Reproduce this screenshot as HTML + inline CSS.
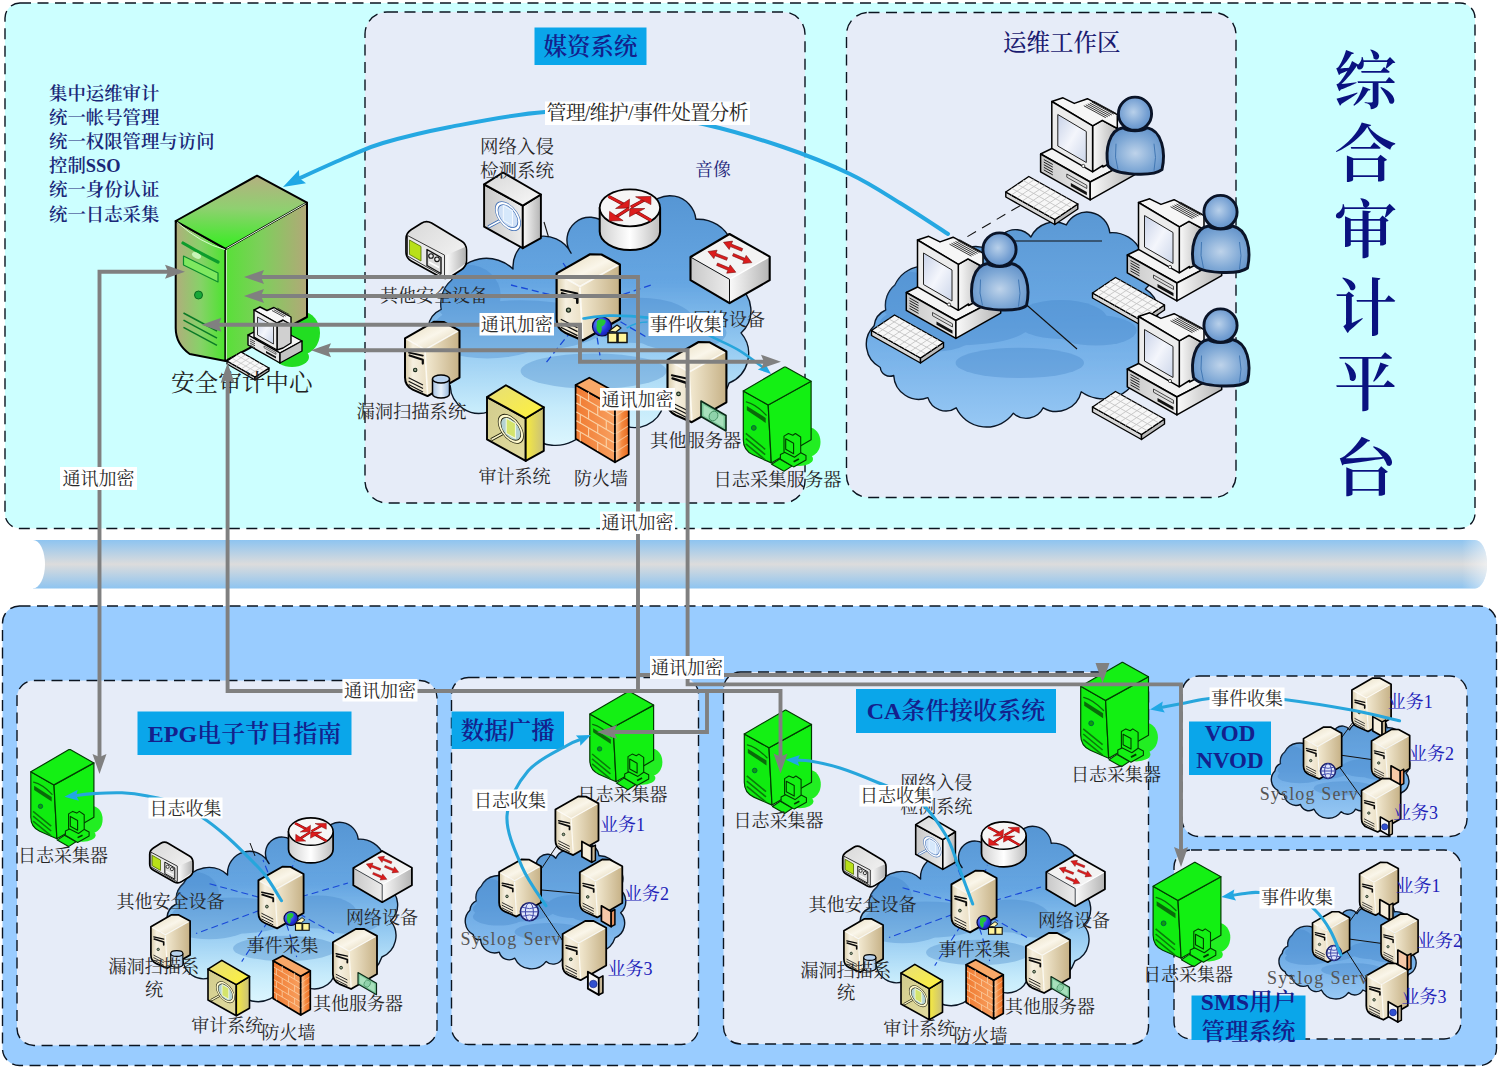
<!DOCTYPE html>
<html lang="zh"><head><meta charset="utf-8"><title>综合审计平台</title>
<style>
html,body{margin:0;padding:0;background:#fff;}
body{width:1499px;height:1068px;overflow:hidden;}
svg{display:block;font-family:'Liberation Serif','Noto Serif CJK SC',serif;}
</style></head><body>
<svg width="1499" height="1068" viewBox="0 0 1499 1068">
<defs>

<linearGradient id="gCloud" x1="0" y1="0" x2="0" y2="1"><stop offset="0" stop-color="#5696d4"/><stop offset="0.35" stop-color="#66a6e2"/><stop offset="0.62" stop-color="#98ccf2"/><stop offset="0.85" stop-color="#c6ebfb"/><stop offset="1" stop-color="#dcf6fe"/></linearGradient>
<linearGradient id="gCloud2" x1="0" y1="0" x2="0" y2="1"><stop offset="0" stop-color="#5a98d4"/><stop offset="0.5" stop-color="#6ba9e4"/><stop offset="1" stop-color="#97c8f4"/></linearGradient>
<linearGradient id="gSrvTop" x1="0" y1="0" x2="1" y2="1"><stop offset="0" stop-color="#e4d8b8"/><stop offset="0.5" stop-color="#faf6ea"/><stop offset="1" stop-color="#d9c9a3"/></linearGradient>
<linearGradient id="gSrvL" x1="0" y1="0" x2="1" y2="0"><stop offset="0" stop-color="#d8cba8"/><stop offset="0.35" stop-color="#f6f0e0"/><stop offset="1" stop-color="#eadfc4"/></linearGradient>
<linearGradient id="gSrvR" x1="0" y1="0" x2="1" y2="0"><stop offset="0" stop-color="#f3ead2"/><stop offset="1" stop-color="#c6b186"/></linearGradient>
<linearGradient id="gBigTop" x1="0.5" y1="0" x2="0.45" y2="1"><stop offset="0" stop-color="#b4b080"/><stop offset="0.45" stop-color="#8fd070"/><stop offset="1" stop-color="#35ee20"/></linearGradient>
<linearGradient id="gBigL" x1="0" y1="0" x2="1" y2="0"><stop offset="0" stop-color="#b0ae7c"/><stop offset="0.5" stop-color="#86d268"/><stop offset="1" stop-color="#4be42e"/></linearGradient>
<linearGradient id="gBigR" x1="0" y1="0" x2="1" y2="0"><stop offset="0" stop-color="#58e038"/><stop offset="0.45" stop-color="#7fce5c"/><stop offset="1" stop-color="#b2a878"/></linearGradient>
<linearGradient id="gGrayTop" x1="0" y1="0" x2="1" y2="1"><stop offset="0" stop-color="#d8d8d8"/><stop offset="1" stop-color="#f8f8f8"/></linearGradient>
<linearGradient id="gGrayL" x1="0" y1="0" x2="1" y2="0"><stop offset="0" stop-color="#c8c8c8"/><stop offset="1" stop-color="#ececec"/></linearGradient>
<linearGradient id="gGrayR" x1="0" y1="0" x2="1" y2="0"><stop offset="0" stop-color="#fafafa"/><stop offset="1" stop-color="#b4b4b4"/></linearGradient>
<linearGradient id="gCyl" x1="0" y1="0" x2="1" y2="0"><stop offset="0" stop-color="#cfcfcf"/><stop offset="0.5" stop-color="#ffffff"/><stop offset="1" stop-color="#bdbdbd"/></linearGradient>
<linearGradient id="gYelTop" x1="0" y1="0" x2="1" y2="1"><stop offset="0" stop-color="#e6de7a"/><stop offset="1" stop-color="#fff23a"/></linearGradient>
<linearGradient id="gYelL" x1="0" y1="0" x2="1" y2="1"><stop offset="0" stop-color="#d2cc8c"/><stop offset="1" stop-color="#e2dca0"/></linearGradient>
<linearGradient id="gYelR" x1="0" y1="0" x2="1" y2="0"><stop offset="0" stop-color="#f6ea40"/><stop offset="1" stop-color="#c9c07a"/></linearGradient>
<linearGradient id="gFwL" x1="0" y1="0" x2="1" y2="0"><stop offset="0" stop-color="#f07a30"/><stop offset="1" stop-color="#f8a060"/></linearGradient>
<linearGradient id="gFwR" x1="0" y1="0" x2="1" y2="0"><stop offset="0" stop-color="#fbd0a8"/><stop offset="0.5" stop-color="#f58a40"/><stop offset="1" stop-color="#e86a20"/></linearGradient>
<radialGradient id="gUser" cx="0.5" cy="0.55" r="0.6"><stop offset="0" stop-color="#bed3ea"/><stop offset="0.6" stop-color="#80a9d6"/><stop offset="1" stop-color="#5f90c8"/></radialGradient>
<radialGradient id="gHead" cx="0.45" cy="0.45" r="0.6"><stop offset="0" stop-color="#b8d0ea"/><stop offset="0.7" stop-color="#749fd2"/><stop offset="1" stop-color="#5f90c8"/></radialGradient>
<linearGradient id="gScreen" x1="0" y1="0" x2="1" y2="1"><stop offset="0" stop-color="#c8d2e8"/><stop offset="0.5" stop-color="#f4f6fc"/><stop offset="1" stop-color="#ccd6ea"/></linearGradient>
<radialGradient id="gGlobe" cx="0.35" cy="0.35" r="0.8"><stop offset="0" stop-color="#6a8cff"/><stop offset="0.6" stop-color="#2030d8"/><stop offset="1" stop-color="#101890"/></radialGradient>
<linearGradient id="gDb" x1="0" y1="0" x2="1" y2="0"><stop offset="0" stop-color="#a8c4e4"/><stop offset="0.5" stop-color="#e8f2fc"/><stop offset="1" stop-color="#98b8dc"/></linearGradient>

<linearGradient id="pipe" x1="0" y1="0" x2="0" y2="1"><stop offset="0" stop-color="#8ec4f0"/><stop offset="0.5" stop-color="#dcdcdc"/><stop offset="1" stop-color="#8ec4f0"/></linearGradient>
<linearGradient id="pipeEnd" x1="0" y1="0" x2="1" y2="0"><stop offset="0" stop-color="#fff" stop-opacity="0"/><stop offset="1" stop-color="#fff" stop-opacity="0.55"/></linearGradient>
<clipPath id="cl1"><path d="M434.9,376.4 A30.4,30.4 0 0 1 428.0,327.8 A22.7,22.7 0 0 1 441.3,309.4 A30.9,30.9 0 0 1 451.5,280.3 A38.7,38.7 0 0 1 513.0,268.9 A30.7,30.7 0 0 1 571.1,253.2 A22.8,22.8 0 0 1 606.3,224.4 A29.8,29.8 0 0 1 646.4,210.2 A26.2,26.2 0 0 1 695.9,219.3 A35.6,35.6 0 0 1 731.4,241.6 A27.2,27.2 0 0 1 736.4,285.1 A29.8,29.8 0 0 1 741.0,332.9 A31.9,31.9 0 0 1 729.1,383.0 A42.9,42.9 0 0 1 663.4,404.7 A29.2,29.2 0 0 1 620.2,423.5 A21.4,21.4 0 0 1 586.3,429.8 A37.9,37.9 0 0 1 521.3,423.5 A21.3,21.3 0 0 1 489.1,411.6 A28.9,28.9 0 0 1 450.2,385.8 A11.1,11.1 0 0 1 434.9,376.4Z"/></clipPath>
<clipPath id="cl2"><path d="M880.3,367.5 A26.1,26.1 0 0 1 874.1,325.8 A19.7,19.7 0 0 1 885.8,310.0 A26.5,26.5 0 0 1 894.9,285.0 A34.0,34.0 0 0 1 948.9,275.2 A26.9,26.9 0 0 1 1000.0,261.8 A19.8,19.8 0 0 1 1030.9,237.0 A26.2,26.2 0 0 1 1066.3,224.9 A23.0,23.0 0 0 1 1109.8,232.7 A31.1,31.1 0 0 1 1141.0,251.8 A23.3,23.3 0 0 1 1145.4,289.1 A25.6,25.6 0 0 1 1149.5,330.1 A27.4,27.4 0 0 1 1139.0,373.1 A37.7,37.7 0 0 1 1081.2,391.8 A25.6,25.6 0 0 1 1043.2,407.8 A18.8,18.8 0 0 1 1013.4,413.2 A33.3,33.3 0 0 1 956.2,407.8 A18.7,18.7 0 0 1 927.9,397.6 A25.2,25.2 0 0 1 893.7,375.5 A9.7,9.7 0 0 1 880.3,367.5Z"/></clipPath>
<clipPath id="cl3"><path d="M172.0,952.2 A21.9,21.9 0 0 1 167.0,917.3 A16.3,16.3 0 0 1 176.5,904.0 A22.2,22.2 0 0 1 183.8,883.1 A27.7,27.7 0 0 1 227.6,874.9 A21.9,21.9 0 0 1 269.1,863.6 A16.3,16.3 0 0 1 294.2,842.8 A21.3,21.3 0 0 1 322.9,832.6 A18.7,18.7 0 0 1 358.2,839.2 A25.5,25.5 0 0 1 383.6,855.2 A19.5,19.5 0 0 1 387.1,886.5 A21.4,21.4 0 0 1 390.5,920.9 A23.0,23.0 0 0 1 381.9,957.0 A30.7,30.7 0 0 1 335.0,972.6 A20.8,20.8 0 0 1 304.2,986.1 A15.3,15.3 0 0 1 280.0,990.6 A27.1,27.1 0 0 1 233.6,986.1 A15.2,15.2 0 0 1 210.6,977.5 A20.7,20.7 0 0 1 182.9,959.0 A7.9,7.9 0 0 1 172.0,952.2Z"/></clipPath>
<clipPath id="cl4"><path d="M865.0,956.2 A21.9,21.9 0 0 1 860.0,921.3 A16.3,16.3 0 0 1 869.5,908.0 A22.2,22.2 0 0 1 876.8,887.1 A27.7,27.7 0 0 1 920.6,878.9 A21.9,21.9 0 0 1 962.1,867.6 A16.3,16.3 0 0 1 987.2,846.8 A21.3,21.3 0 0 1 1015.9,836.6 A18.7,18.7 0 0 1 1051.2,843.2 A25.5,25.5 0 0 1 1076.6,859.2 A19.5,19.5 0 0 1 1080.2,890.5 A21.4,21.4 0 0 1 1083.5,924.9 A23.0,23.0 0 0 1 1074.9,961.0 A30.7,30.7 0 0 1 1028.0,976.6 A20.8,20.8 0 0 1 997.2,990.1 A15.3,15.3 0 0 1 973.0,994.6 A27.1,27.1 0 0 1 926.6,990.1 A15.2,15.2 0 0 1 903.6,981.5 A20.7,20.7 0 0 1 875.9,963.0 A7.9,7.9 0 0 1 865.0,956.2Z"/></clipPath>
<clipPath id="cl5"><path d="M473.2,934.6 A15.3,15.3 0 0 1 469.9,910.2 A11.3,11.3 0 0 1 476.3,900.9 A15.4,15.4 0 0 1 481.2,886.3 A18.7,18.7 0 0 1 510.8,880.6 A14.8,14.8 0 0 1 538.8,872.7 A11.1,11.1 0 0 1 555.8,858.2 A14.4,14.4 0 0 1 575.1,851.1 A12.6,12.6 0 0 1 599.0,855.7 A17.4,17.4 0 0 1 616.1,866.9 A13.6,13.6 0 0 1 618.5,888.7 A14.9,14.9 0 0 1 620.7,912.7 A16.0,16.0 0 0 1 615.0,937.9 A20.8,20.8 0 0 1 583.3,948.8 A14.2,14.2 0 0 1 562.5,958.2 A10.3,10.3 0 0 1 546.2,961.4 A18.3,18.3 0 0 1 514.8,958.2 A10.3,10.3 0 0 1 499.3,952.2 A14.1,14.1 0 0 1 480.6,939.3 A5.4,5.4 0 0 1 473.2,934.6Z"/></clipPath>
<clipPath id="cl6"><path d="M1277.8,790.4 A12.2,12.2 0 0 1 1274.9,771.0 A9.2,9.2 0 0 1 1280.5,763.7 A12.4,12.4 0 0 1 1284.8,752.0 A16.2,16.2 0 0 1 1310.5,747.5 A12.8,12.8 0 0 1 1334.8,741.2 A9.3,9.3 0 0 1 1349.6,729.7 A12.4,12.4 0 0 1 1366.4,724.1 A10.9,10.9 0 0 1 1387.1,727.7 A14.7,14.7 0 0 1 1402.0,736.6 A10.8,10.8 0 0 1 1404.0,754.0 A11.9,11.9 0 0 1 1406.0,773.0 A12.8,12.8 0 0 1 1401.0,793.0 A17.9,17.9 0 0 1 1373.5,801.7 A12.1,12.1 0 0 1 1355.4,809.2 A8.9,8.9 0 0 1 1341.2,811.7 A15.9,15.9 0 0 1 1314.0,809.2 A8.9,8.9 0 0 1 1300.5,804.5 A11.9,11.9 0 0 1 1284.2,794.2 A4.6,4.6 0 0 1 1277.8,790.4Z"/></clipPath>
<clipPath id="cl7"><path d="M1285.2,971.9 A11.7,11.7 0 0 1 1282.3,953.3 A9.0,9.0 0 0 1 1287.9,946.2 A12.0,12.0 0 0 1 1292.2,935.1 A16.2,16.2 0 0 1 1317.9,930.7 A12.8,12.8 0 0 1 1342.2,924.7 A9.2,9.2 0 0 1 1357.0,913.6 A12.4,12.4 0 0 1 1373.8,908.2 A10.9,10.9 0 0 1 1394.5,911.7 A14.6,14.6 0 0 1 1409.4,920.2 A10.4,10.4 0 0 1 1411.5,936.9 A11.4,11.4 0 0 1 1413.4,955.3 A12.3,12.3 0 0 1 1408.4,974.5 A17.8,17.8 0 0 1 1380.9,982.8 A12.1,12.1 0 0 1 1362.8,990.0 A8.9,8.9 0 0 1 1348.6,992.4 A15.9,15.9 0 0 1 1321.4,990.0 A8.8,8.8 0 0 1 1307.9,985.4 A11.8,11.8 0 0 1 1291.6,975.5 A4.5,4.5 0 0 1 1285.2,971.9Z"/></clipPath>
</defs>
<rect x="0" y="0" width="1499" height="1068" fill="#fff"/>
<rect x="5" y="3" width="1470" height="525.5" rx="15" fill="#ccffff" stroke="#0b1420" stroke-width="1.4" stroke-dasharray="11 6.5"/>
<rect x="365" y="12" width="440" height="491" rx="22" fill="#e6ecf8" stroke="#0b1420" stroke-width="1.4" stroke-dasharray="11 6.5"/>
<rect x="846.5" y="12.5" width="389.5" height="485" rx="22" fill="#e6ecf8" stroke="#0b1420" stroke-width="1.4" stroke-dasharray="11 6.5"/>
<path d="M33,540 H1475 A12,24.2 0 0 1 1475,588.4 H33 Z" fill="url(#pipe)"/>
<path d="M1462,540 H1475 A12,24.2 0 0 1 1475,588.4 H1462 Z" fill="url(#pipeEnd)"/>
<ellipse cx="33" cy="564.2" rx="12" ry="24.2" fill="#fff"/>
<rect x="2.5" y="606" width="1494" height="459.5" rx="17" fill="#99ccff" stroke="#0b1420" stroke-width="1.4" stroke-dasharray="11 6.5"/>
<rect x="17" y="680.5" width="420" height="365" rx="17" fill="#e6ecf8" stroke="#0b1420" stroke-width="1.4" stroke-dasharray="11 6.5"/>
<rect x="451.5" y="677.5" width="247" height="367" rx="17" fill="#e6ecf8" stroke="#0b1420" stroke-width="1.4" stroke-dasharray="11 6.5"/>
<rect x="723.5" y="672" width="425" height="372" rx="17" fill="#e6ecf8" stroke="#0b1420" stroke-width="1.4" stroke-dasharray="11 6.5"/>
<rect x="1182" y="676" width="285" height="160.5" rx="17" fill="#e6ecf8" stroke="#0b1420" stroke-width="1.4" stroke-dasharray="11 6.5"/>
<rect x="1174" y="850" width="287" height="189" rx="17" fill="#e6ecf8" stroke="#0b1420" stroke-width="1.4" stroke-dasharray="11 6.5"/>
<rect x="534.5" y="27.5" width="112.0" height="37.5" fill="#0aa6ea"/>
<text x="590.5" y="54.5" font-size="23.5" fill="#14208c" font-weight="600" text-anchor="middle" >媒资系统</text>
<rect x="137.5" y="711.5" width="214.0" height="43.5" fill="#0aa6ea"/>
<text x="244.5" y="741.6" font-size="24.0" fill="#14208c" font-weight="600" text-anchor="middle" >EPG电子节目指南</text>
<rect x="451.5" y="711.5" width="112.5" height="37.5" fill="#0aa6ea"/>
<text x="507.8" y="738.5" font-size="23.5" fill="#14208c" font-weight="600" text-anchor="middle" >数据广播</text>
<rect x="856.0" y="689.0" width="200.0" height="44.0" fill="#0aa6ea"/>
<text x="956.0" y="719.4" font-size="24.0" fill="#14208c" font-weight="600" text-anchor="middle" >CA条件接收系统</text>
<rect x="1189.0" y="721.5" width="82.0" height="53.5" fill="#0aa6ea"/>
<text x="1230.0" y="740.5" font-size="23.0" fill="#14208c" font-weight="600" text-anchor="middle" >VOD</text>
<text x="1230.0" y="768.0" font-size="23.0" fill="#14208c" font-weight="600" text-anchor="middle" >NVOD</text>
<rect x="1191.5" y="995.5" width="114.0" height="44.5" fill="#0aa6ea"/>
<text x="1248.5" y="1009.5" font-size="23.5" fill="#14208c" font-weight="600" text-anchor="middle" >SMS用户</text>
<text x="1248.5" y="1039.5" font-size="23.5" fill="#14208c" font-weight="600" text-anchor="middle" >管理系统</text>
<text x="1003.0" y="51.0" font-size="23.5" fill="#1a1a70" font-weight="500" text-anchor="start" >运维工作区</text>
<text x="1365.5 1365.5 1365.5 1365.5 1365.5 1365.5" y="103.0 176.0 252.0 329.5 404.5 489.5" font-size="63" fill="#0a1280" font-weight="600" text-anchor="middle">综合审计平台</text>
<text x="49.0" y="100.0" font-size="18.4" fill="#1a2878" font-weight="600" text-anchor="start" >集中运维审计</text>
<text x="49.0" y="124.1" font-size="18.4" fill="#1a2878" font-weight="600" text-anchor="start" >统一帐号管理</text>
<text x="49.0" y="148.2" font-size="18.4" fill="#1a2878" font-weight="600" text-anchor="start" >统一权限管理与访问</text>
<text x="49.0" y="172.3" font-size="18.4" fill="#1a2878" font-weight="600" text-anchor="start" >控制SSO</text>
<text x="49.0" y="196.4" font-size="18.4" fill="#1a2878" font-weight="600" text-anchor="start" >统一身份认证</text>
<text x="49.0" y="220.5" font-size="18.4" fill="#1a2878" font-weight="600" text-anchor="start" >统一日志采集</text>
<path d="M434.9,376.4 A30.4,30.4 0 0 1 428.0,327.8 A22.7,22.7 0 0 1 441.3,309.4 A30.9,30.9 0 0 1 451.5,280.3 A38.7,38.7 0 0 1 513.0,268.9 A30.7,30.7 0 0 1 571.1,253.2 A22.8,22.8 0 0 1 606.3,224.4 A29.8,29.8 0 0 1 646.4,210.2 A26.2,26.2 0 0 1 695.9,219.3 A35.6,35.6 0 0 1 731.4,241.6 A27.2,27.2 0 0 1 736.4,285.1 A29.8,29.8 0 0 1 741.0,332.9 A31.9,31.9 0 0 1 729.1,383.0 A42.9,42.9 0 0 1 663.4,404.7 A29.2,29.2 0 0 1 620.2,423.5 A21.4,21.4 0 0 1 586.3,429.8 A37.9,37.9 0 0 1 521.3,423.5 A21.3,21.3 0 0 1 489.1,411.6 A28.9,28.9 0 0 1 450.2,385.8 A11.1,11.1 0 0 1 434.9,376.4Z" fill="url(#gCloud)" stroke="#0a1626" stroke-width="1.40" stroke-linejoin="round" />
<g clip-path="url(#cl1)" fill="#3f7fc4" opacity="0.33">
<ellipse cx="520.6" cy="325.6" rx="86.3" ry="25.3"/>
<ellipse cx="487.4" cy="340.7" rx="53.1" ry="17.7"/>
<ellipse cx="640.1" cy="320.5" rx="53.1" ry="22.8"/>
<ellipse cx="680.0" cy="333.1" rx="46.5" ry="17.7"/>
<ellipse cx="593.6" cy="371.1" rx="73.0" ry="17.7"/>
<ellipse cx="467.5" cy="295.2" rx="33.2" ry="30.4"/>
</g>
<line x1="544.0" y1="222.0" x2="548.5" y2="237.0" stroke="#111" stroke-width="1.10" />
<g stroke="#1848d8" stroke-width="1.3" stroke-dasharray="7 4">
<line x1="592.0" y1="305.0" x2="511.0" y2="285.0"/>
<line x1="592.0" y1="305.0" x2="561.0" y2="260.0"/>
<line x1="592.0" y1="305.0" x2="651.0" y2="285.0"/>
<line x1="592.0" y1="305.0" x2="545.0" y2="364.0"/>
<line x1="592.0" y1="305.0" x2="601.0" y2="362.0"/>
<line x1="592.0" y1="305.0" x2="648.0" y2="338.0"/>
</g>
<polygon points="484.1,184.4 522.8,205.6 522.8,248.2 484.1,226.7" fill="url(#gGrayL)" stroke="#000" stroke-width="1.90" stroke-linejoin="round" />
<polygon points="522.8,205.6 540.9,194.5 540.9,238.1 522.8,248.2" fill="url(#gGrayR)" stroke="#000" stroke-width="1.90" stroke-linejoin="round" />
<polygon points="484.1,184.4 503.0,172.5 540.9,194.5 522.8,205.6" fill="url(#gGrayTop)" stroke="#000" stroke-width="1.90" stroke-linejoin="round" />
<g transform="matrix(1,0.565,0,1,507.9,216.1) scale(1.000)">
<line x1="-8.4" y1="9.6" x2="-19" y2="21.3" stroke="#3c6cb4" stroke-width="2.6" stroke-linecap="round"/>
<line x1="-8.4" y1="9.6" x2="-19" y2="21.3" stroke="#ffffff" stroke-width="1.3" stroke-linecap="round"/>
<circle cx="0" cy="0" r="11.3" fill="#cfe0f6" stroke="#3c6cb4" stroke-width="3.4"/>
<circle cx="0" cy="0" r="11.3" fill="none" stroke="#ffffff" stroke-width="2.0"/>
<rect x="-4.6" y="-8" width="9.2" height="15" fill="#d6e8fb" stroke="#f4f9ff" stroke-width="1"/>
</g>
<path d="M406.0,239.0 Q406.0,233.0 411.1,229.8 L421.4,223.2 Q426.5,220.0 431.6,223.1 L461.4,240.9 Q466.5,244.0 466.5,250.0 L466.5,260.6 Q466.5,266.6 461.4,269.8 L450.6,276.8 Q445.5,280.0 440.3,277.1 L411.2,260.9 Q406.0,258.0 406.0,252.0 Z" fill="url(#gGrayTop)" stroke="#000" stroke-width="1.70" stroke-linejoin="round" />
<polygon points="407.5,235.5 444.5,255.1 444.5,277.0 407.5,256.0" fill="#e9e9e9" stroke="#222" stroke-width="0.90" stroke-linejoin="round" />
<polygon points="446.5,255.1 465.0,247.0 465.0,264.1 446.5,277.0" fill="url(#gGrayR)" stroke="none" stroke-width="0.00" stroke-linejoin="round" />
<polygon points="409.5,240.0 421.0,246.5 421.0,261.0 409.5,254.5" fill="#b8e018" stroke="#4c6a00" stroke-width="0.80" stroke-linejoin="round" />
<polygon points="427.0,249.5 441.0,257.5 441.0,273.5 427.0,265.5" fill="#dcdcdc" stroke="#111" stroke-width="1.40" stroke-linejoin="round" />
<circle cx="431.0" cy="256.0" r="2.3" fill="#eee" stroke="#111" stroke-width="1.1"/>
<circle cx="437.0" cy="259.3" r="2.3" fill="#eee" stroke="#111" stroke-width="1.1"/>
<line x1="429.0" y1="262.0" x2="439.0" y2="267.5" stroke="#fff" stroke-width="1.50" />
<path d="M599.7,207.8 V231.6 A30.2,18.5 0 0 0 660.1,231.6 V207.8 Z" fill="url(#gCyl)" stroke="#000" stroke-width="2.00" stroke-linejoin="round" />
<ellipse cx="629.9" cy="207.8" rx="30.2" ry="18.5" fill="#f6f6f6" stroke="#000" stroke-width="1.80"/>
<line x1="608.5" y1="196.4" x2="623.9" y2="204.5" stroke="#7a0c0c" stroke-width="3.30" />
<line x1="608.5" y1="196.4" x2="623.9" y2="204.5" stroke="#dc1c1c" stroke-width="2.30" />
<polygon points="629.5,199.2 615.6,208.5 629.1,207.9" fill="#dc1c1c" stroke="#7a0c0c" stroke-width="0.60" stroke-linejoin="round" />
<line x1="630.9" y1="207.2" x2="644.9" y2="199.6" stroke="#7a0c0c" stroke-width="3.30" />
<line x1="630.9" y1="207.2" x2="644.9" y2="199.6" stroke="#dc1c1c" stroke-width="2.30" />
<polygon points="650.9,196.4 635.6,196.8 650.9,204.6" fill="#dc1c1c" stroke="#7a0c0c" stroke-width="0.60" stroke-linejoin="round" />
<line x1="628.9" y1="208.6" x2="614.9" y2="217.6" stroke="#7a0c0c" stroke-width="3.30" />
<line x1="628.9" y1="208.6" x2="614.9" y2="217.6" stroke="#dc1c1c" stroke-width="2.30" />
<polygon points="609.3,221.0 609.6,211.4 623.1,220.6" fill="#dc1c1c" stroke="#7a0c0c" stroke-width="0.60" stroke-linejoin="round" />
<line x1="651.3" y1="220.6" x2="635.9" y2="211.8" stroke="#7a0c0c" stroke-width="3.30" />
<line x1="651.3" y1="220.6" x2="635.9" y2="211.8" stroke="#dc1c1c" stroke-width="2.30" />
<polygon points="629.9,208.5 644.8,208.5 629.5,216.7" fill="#dc1c1c" stroke="#7a0c0c" stroke-width="0.60" stroke-linejoin="round" />
<polygon points="690.5,257.0 729.5,279.3 729.5,303.2 690.5,280.2" fill="url(#gGrayL)" stroke="none" stroke-width="0.00" stroke-linejoin="round" />
<polygon points="729.5,279.3 769.7,256.6 769.7,280.2 729.5,303.2" fill="url(#gGrayR)" stroke="none" stroke-width="0.00" stroke-linejoin="round" />
<polygon points="690.5,257.0 729.5,234.0 769.7,256.6 729.5,279.3" fill="#f3f3f3" stroke="none" stroke-width="0.00" stroke-linejoin="round" />
<line x1="729.5" y1="279.3" x2="769.7" y2="256.6" stroke="#ffffff" stroke-width="1.40" />
<line x1="690.5" y1="257.0" x2="729.5" y2="279.3" stroke="#111" stroke-width="1.00" />
<line x1="729.5" y1="279.3" x2="729.5" y2="303.2" stroke="#111" stroke-width="1.00" />
<polygon points="690.5,257.0 729.5,234.0 769.7,256.6 769.7,280.2 729.5,303.2 690.5,280.2" fill="none" stroke="#000" stroke-width="2.10" stroke-linejoin="round" />
<polygon points="742.7,248.6 731.4,244.1 732.6,241.1 723.5,242.3 729.2,249.5 730.4,246.6 741.7,251.2" fill="#dc1c1c" stroke="#7a0c0c" stroke-width="0.60" stroke-linejoin="round" />
<polygon points="727.6,257.7 715.9,253.2 717.1,250.2 708.0,251.5 713.8,258.6 715.0,255.7 726.6,260.3" fill="#dc1c1c" stroke="#7a0c0c" stroke-width="0.60" stroke-linejoin="round" />
<polygon points="732.5,255.9 743.9,260.7 742.7,263.6 751.8,262.6 746.2,255.4 744.9,258.3 733.5,253.5" fill="#dc1c1c" stroke="#7a0c0c" stroke-width="0.60" stroke-linejoin="round" />
<polygon points="716.6,265.4 727.9,270.3 726.7,273.2 735.8,272.2 730.2,264.9 729.0,267.8 717.6,263.0" fill="#dc1c1c" stroke="#7a0c0c" stroke-width="0.60" stroke-linejoin="round" />
<path d="M405.0,338.3 L425.0,349.6 L427.5,396.1 L412.7,389.6 Q405.0,386.1 405.0,377.6 Z" fill="url(#gSrvL)" stroke="none" stroke-width="0.00" stroke-linejoin="round" />
<polygon points="425.0,349.6 459.5,330.6 459.5,377.6 427.5,396.1" fill="url(#gSrvR)" stroke="none" stroke-width="0.00" stroke-linejoin="round" />
<polygon points="405.0,338.3 433.8,321.8 443.7,322.0 459.5,330.6 425.0,349.6" fill="url(#gSrvTop)" stroke="none" stroke-width="0.00" stroke-linejoin="round" />
<line x1="425.0" y1="350.6" x2="427.5" y2="394.1" stroke="#fffdf6" stroke-width="1.60" opacity="0.9"/>
<path d="M406.5,339.1 L425.0,349.6 L458.0,331.2" fill="none" stroke="#fffdf8" stroke-width="1.50" stroke-linejoin="round" opacity="0.85"/>
<path d="M405.0,338.3 L433.8,321.8 L443.7,322.0 L459.5,330.6 L459.5,377.6 L427.5,396.1 L412.7,389.6 Q405.0,386.1 405.0,377.6 Z" fill="none" stroke="#000" stroke-width="2.00" stroke-linejoin="round" />
<path d="M409.0,352.6 L422.8,355.6" fill="none" stroke="#0a0a0a" stroke-width="1.80" stroke-linejoin="round" stroke-linecap="round"/>
<path d="M409.6,355.5 L422.8,359.8 L422.8,363.6" fill="none" stroke="#0a0a0a" stroke-width="2.20" stroke-linejoin="round" stroke-linecap="round"/>
<circle cx="415.2" cy="369.9" r="1.7" fill="#9aa890" stroke="#1a2a1a" stroke-width="1.1"/>
<line x1="408.6" y1="377.8" x2="423.0" y2="385.1" stroke="#111" stroke-width="1.10" />
<line x1="408.6" y1="381.2" x2="423.0" y2="388.5" stroke="#111" stroke-width="1.10" />
<line x1="408.6" y1="384.6" x2="423.0" y2="391.9" stroke="#111" stroke-width="1.10" />
<path d="M432.5,379.0 V394.0 A8.5,4.0 0 0 0 449.5,394.0 V379.0 Z" fill="url(#gDb)" stroke="#000" stroke-width="1.50" stroke-linejoin="round" />
<ellipse cx="441.0" cy="379.0" rx="8.5" ry="4.0" fill="#b8d2ee" stroke="#000" stroke-width="1.5"/>
<polygon points="487.0,397.1 525.7,418.3 525.7,460.9 487.0,439.4" fill="url(#gYelL)" stroke="#000" stroke-width="1.90" stroke-linejoin="round" />
<polygon points="525.7,418.3 543.8,407.2 543.8,450.8 525.7,460.9" fill="url(#gYelR)" stroke="#000" stroke-width="1.90" stroke-linejoin="round" />
<polygon points="487.0,397.1 505.9,385.2 543.8,407.2 525.7,418.3" fill="url(#gYelTop)" stroke="#000" stroke-width="1.90" stroke-linejoin="round" />
<g transform="matrix(1,0.565,0,1,510.8,428.8) scale(1.000)">
<line x1="-8.4" y1="9.6" x2="-19" y2="21.3" stroke="#1c1c08" stroke-width="2.6" stroke-linecap="round"/>
<line x1="-8.4" y1="9.6" x2="-19" y2="21.3" stroke="#fdf8cc" stroke-width="1.3" stroke-linecap="round"/>
<circle cx="0" cy="0" r="11.3" fill="#b4d2d2" stroke="#1c1c08" stroke-width="3.4"/>
<circle cx="0" cy="0" r="11.3" fill="none" stroke="#fdf8cc" stroke-width="2.0"/>
<rect x="-4.6" y="-8" width="9.2" height="15" fill="#d4e46c" stroke="#f6fbe0" stroke-width="1"/>
</g>
<polygon points="575.6,385.0 615.0,407.0 615.0,462.3 575.6,438.7" fill="url(#gFwL)" stroke="#000" stroke-width="1.70" stroke-linejoin="round" />
<polygon points="615.0,407.0 628.7,399.3 628.7,454.4 615.0,462.3" fill="url(#gFwR)" stroke="#000" stroke-width="1.70" stroke-linejoin="round" />
<polygon points="575.6,385.0 589.3,377.7 628.7,399.3 615.0,407.0" fill="#f8a868" stroke="#000" stroke-width="1.70" stroke-linejoin="round" />
<g stroke="#fbd2a6" stroke-width="1.10">
<line x1="576.4" y1="393.9" x2="614.2" y2="415.9"/>
<line x1="576.4" y1="402.9" x2="614.2" y2="424.9"/>
<line x1="576.4" y1="411.9" x2="614.2" y2="433.9"/>
<line x1="576.4" y1="420.8" x2="614.2" y2="442.8"/>
<line x1="576.4" y1="429.8" x2="614.2" y2="451.8"/>
<line x1="588.6" y1="392.3" x2="588.6" y2="401.2"/>
<line x1="606.3" y1="402.2" x2="606.3" y2="411.1"/>
<line x1="580.3" y1="396.6" x2="580.3" y2="405.5"/>
<line x1="597.7" y1="406.3" x2="597.7" y2="415.2"/>
<line x1="588.6" y1="410.2" x2="588.6" y2="419.1"/>
<line x1="606.3" y1="420.1" x2="606.3" y2="429.0"/>
<line x1="580.3" y1="414.5" x2="580.3" y2="423.4"/>
<line x1="597.7" y1="424.2" x2="597.7" y2="433.1"/>
<line x1="588.6" y1="428.1" x2="588.6" y2="437.0"/>
<line x1="606.3" y1="438.0" x2="606.3" y2="446.9"/>
<line x1="580.3" y1="432.4" x2="580.3" y2="441.3"/>
<line x1="597.7" y1="442.1" x2="597.7" y2="451.0"/>
<line x1="615.8" y1="415.9" x2="627.9" y2="408.2" opacity="0.7"/>
<line x1="615.8" y1="424.9" x2="627.9" y2="417.2" opacity="0.7"/>
<line x1="615.8" y1="433.9" x2="627.9" y2="426.2" opacity="0.7"/>
<line x1="615.8" y1="442.8" x2="627.9" y2="435.1" opacity="0.7"/>
<line x1="615.8" y1="451.8" x2="627.9" y2="444.1" opacity="0.7"/>
</g>
<path d="M667.5,359.8 L689.1,372.0 L691.8,422.2 L675.8,415.3 Q667.5,411.4 667.5,402.3 Z" fill="url(#gSrvL)" stroke="none" stroke-width="0.00" stroke-linejoin="round" />
<polygon points="689.1,372.0 726.4,351.5 726.4,402.3 691.8,422.2" fill="url(#gSrvR)" stroke="none" stroke-width="0.00" stroke-linejoin="round" />
<polygon points="667.5,359.8 698.6,342.0 709.3,342.2 726.4,351.5 689.1,372.0" fill="url(#gSrvTop)" stroke="none" stroke-width="0.00" stroke-linejoin="round" />
<line x1="689.1" y1="373.0" x2="691.8" y2="420.2" stroke="#fffdf6" stroke-width="1.73" opacity="0.9"/>
<path d="M669.0,360.6 L689.1,372.0 L724.9,352.1" fill="none" stroke="#fffdf8" stroke-width="1.62" stroke-linejoin="round" opacity="0.85"/>
<path d="M667.5,359.8 L698.6,342.0 L709.3,342.2 L726.4,351.5 L726.4,402.3 L691.8,422.2 L675.8,415.3 Q667.5,411.4 667.5,402.3 Z" fill="none" stroke="#000" stroke-width="2.08" stroke-linejoin="round" />
<path d="M671.8,375.2 L686.7,378.5" fill="none" stroke="#0a0a0a" stroke-width="1.94" stroke-linejoin="round" stroke-linecap="round"/>
<path d="M672.5,378.4 L686.7,383.0 L686.7,387.1" fill="none" stroke="#0a0a0a" stroke-width="2.38" stroke-linejoin="round" stroke-linecap="round"/>
<circle cx="678.5" cy="393.9" r="1.8" fill="#9aa890" stroke="#1a2a1a" stroke-width="1.2"/>
<line x1="671.4" y1="402.5" x2="687.0" y2="410.3" stroke="#111" stroke-width="1.19" />
<line x1="671.4" y1="406.2" x2="687.0" y2="414.0" stroke="#111" stroke-width="1.19" />
<line x1="671.4" y1="409.9" x2="687.0" y2="417.7" stroke="#111" stroke-width="1.19" />
<polygon points="701.0,401.0 726.0,415.5 726.0,431.0 701.0,416.5" fill="#7cc89a" stroke="#0a2a18" stroke-width="1.60" stroke-linejoin="round" />
<polygon points="703.5,405.0 723.5,416.6 723.5,427.0 703.5,415.4" fill="#a8e0bc" stroke="none" stroke-width="0.00" stroke-linejoin="round" />
<ellipse cx="713.5" cy="416.0" rx="4.2" ry="5.0" fill="#8fd2aa" stroke="#3f8a5c" stroke-width="0.8" transform="rotate(30 713.5 416.0)"/>
<path d="M556.6,273.4 L579.8,286.5 L582.7,340.5 L565.6,333.0 Q556.6,328.9 556.6,319.0 Z" fill="url(#gSrvL)" stroke="none" stroke-width="0.00" stroke-linejoin="round" />
<polygon points="579.8,286.5 619.9,264.5 619.9,319.0 582.7,340.5" fill="url(#gSrvR)" stroke="none" stroke-width="0.00" stroke-linejoin="round" />
<polygon points="556.6,273.4 590.0,254.3 601.5,254.5 619.9,264.5 579.8,286.5" fill="url(#gSrvTop)" stroke="none" stroke-width="0.00" stroke-linejoin="round" />
<line x1="579.8" y1="287.5" x2="582.7" y2="338.5" stroke="#fffdf6" stroke-width="1.86" opacity="0.9"/>
<path d="M558.1,274.2 L579.8,286.5 L618.4,265.1" fill="none" stroke="#fffdf8" stroke-width="1.74" stroke-linejoin="round" opacity="0.85"/>
<path d="M556.6,273.4 L590.0,254.3 L601.5,254.5 L619.9,264.5 L619.9,319.0 L582.7,340.5 L565.6,333.0 Q556.6,328.9 556.6,319.0 Z" fill="none" stroke="#000" stroke-width="2.15" stroke-linejoin="round" />
<path d="M561.3,290.0 L577.3,293.5" fill="none" stroke="#0a0a0a" stroke-width="2.09" stroke-linejoin="round" stroke-linecap="round"/>
<path d="M562.0,293.4 L577.3,298.3 L577.3,302.7" fill="none" stroke="#0a0a0a" stroke-width="2.55" stroke-linejoin="round" stroke-linecap="round"/>
<circle cx="568.5" cy="310.1" r="2.0" fill="#9aa890" stroke="#1a2a1a" stroke-width="1.3"/>
<line x1="560.8" y1="319.3" x2="577.5" y2="327.7" stroke="#111" stroke-width="1.28" />
<line x1="560.8" y1="323.2" x2="577.5" y2="331.6" stroke="#111" stroke-width="1.28" />
<line x1="560.8" y1="327.2" x2="577.5" y2="335.6" stroke="#111" stroke-width="1.28" />
<circle cx="602.0" cy="326.5" r="9.5" fill="url(#gGlobe)" stroke="#080840" stroke-width="1.2"/>
<path d="M596.8,321.3 q4.8,-4.3 9.0,-0.5 q-0.5,4.8 -4.3,5.7 q1.0,4.8 -1.4,7.6 q-4.8,-2.9 -3.3,-10.0 Z" fill="#22c43a" stroke="none" stroke-width="0.00" stroke-linejoin="round" />
<rect x="608.0" y="333.0" width="9.0" height="9.5" fill="#fff59a" stroke="#111" stroke-width="1.5"/>
<rect x="618.0" y="333.0" width="9.0" height="9.5" fill="#fff59a" stroke="#111" stroke-width="1.5"/>
<polygon points="609.0,331.0 617.0,325.0 621.0,328.0 616.0,332.0" fill="#fdf6b0" stroke="#111" stroke-width="1.20" stroke-linejoin="round" />
<g fill="#22ee22">
<ellipse cx="809.0" cy="442.0" rx="11.5" ry="14.5"/>
<ellipse cx="799.0" cy="459.0" rx="14.0" ry="7.0"/>
</g>
<path d="M743.3,390.9 L768.2,405.0 L771.3,462.9 L752.9,454.8 Q743.3,450.4 743.3,439.8 Z" fill="#10ec10" stroke="#003c00" stroke-width="1.20" stroke-linejoin="round" />
<polygon points="768.2,405.0 811.1,381.3 811.1,439.8 771.3,462.9" fill="#12f012" stroke="#003c00" stroke-width="1.20" stroke-linejoin="round" />
<polygon points="743.3,390.9 784.4,367.0 785.6,367.0 811.1,381.3 768.2,405.0" fill="#14f014" stroke="#003c00" stroke-width="1.20" stroke-linejoin="round" />
<path d="M746.3,401.9 Q755.7,404.2 766.2,415.1" fill="none" stroke="#0a6a0a" stroke-width="1.25" stroke-linejoin="round" stroke-linecap="round"/>
<polygon points="746.8,405.9 765.7,417.9 765.7,422.9 746.8,410.3" fill="#0a6a0a" stroke="none" stroke-width="0.00" stroke-linejoin="round" />
<circle cx="753.8" cy="427.9" r="2.4" fill="#0c9c0c" stroke="#064" stroke-width="1.0"/>
<line x1="745.8" y1="433.4" x2="765.2" y2="449.3" stroke="#0a7a0a" stroke-width="1.62" />
<line x1="745.8" y1="438.6" x2="765.2" y2="454.6" stroke="#0a7a0a" stroke-width="1.62" />
<line x1="745.8" y1="443.9" x2="765.2" y2="459.8" stroke="#0a7a0a" stroke-width="1.62" />
<g stroke="#003c00" stroke-width="1.10" stroke-linejoin="round" fill="#14f014">
<polygon points="771.6,464.3 779.6,459.0 791.9,466.1 784.0,471.3"/>
<polygon points="780.4,454.6 792.8,448.5 806.0,455.5 806.0,459.9 793.6,466.9 780.4,459.0"/>
<polygon points="784.0,436.1 788.4,433.5 792.8,435.3 795.4,433.5 800.7,437.0 800.7,452.9 794.5,457.3 784.0,452.0"/>
<polygon points="785.7,438.8 793.6,443.2 793.6,453.7 785.7,449.3"/>
<line x1="793.6" y1="461.7" x2="798.9" y2="459.0" stroke-width="1.8"/>
</g>
<path d="M880.3,367.5 A26.1,26.1 0 0 1 874.1,325.8 A19.7,19.7 0 0 1 885.8,310.0 A26.5,26.5 0 0 1 894.9,285.0 A34.0,34.0 0 0 1 948.9,275.2 A26.9,26.9 0 0 1 1000.0,261.8 A19.8,19.8 0 0 1 1030.9,237.0 A26.2,26.2 0 0 1 1066.3,224.9 A23.0,23.0 0 0 1 1109.8,232.7 A31.1,31.1 0 0 1 1141.0,251.8 A23.3,23.3 0 0 1 1145.4,289.1 A25.6,25.6 0 0 1 1149.5,330.1 A27.4,27.4 0 0 1 1139.0,373.1 A37.7,37.7 0 0 1 1081.2,391.8 A25.6,25.6 0 0 1 1043.2,407.8 A18.8,18.8 0 0 1 1013.4,413.2 A33.3,33.3 0 0 1 956.2,407.8 A18.7,18.7 0 0 1 927.9,397.6 A25.2,25.2 0 0 1 893.7,375.5 A9.7,9.7 0 0 1 880.3,367.5Z" fill="url(#gCloud2)" stroke="#0a1626" stroke-width="1.40" stroke-linejoin="round" />
<g clip-path="url(#cl2)" fill="#3f7fc4" opacity="0.33">
<ellipse cx="955.6" cy="323.8" rx="75.9" ry="21.7"/>
<ellipse cx="926.4" cy="336.9" rx="46.7" ry="15.2"/>
<ellipse cx="1060.7" cy="319.5" rx="46.7" ry="19.5"/>
<ellipse cx="1095.8" cy="330.4" rx="40.9" ry="15.2"/>
<ellipse cx="1019.8" cy="362.9" rx="64.2" ry="15.2"/>
<ellipse cx="908.9" cy="297.8" rx="29.2" ry="26.0"/>
</g>
<line x1="967.4" y1="236.6" x2="1028.0" y2="201.0" stroke="#111" stroke-width="1.10" stroke-dasharray="10 7"/>
<line x1="1010.0" y1="241.0" x2="1102.0" y2="241.0" stroke="#111" stroke-width="1.10" />
<line x1="1021.0" y1="300.0" x2="1077.0" y2="349.0" stroke="#111" stroke-width="1.10" />
<g stroke="#000" stroke-width="1.50" stroke-linejoin="round">
<polygon points="1040.6,154.0 1084.8,132.5 1135.0,158.7 1090.2,182.0" fill="#f4f4f4"/>
<polygon points="1040.6,154.0 1090.2,182.0 1090.2,199.9 1040.6,171.8" fill="url(#gGrayL)"/>
<polygon points="1090.2,182.0 1135.0,158.7 1135.0,174.6 1090.2,199.9" fill="url(#gGrayR)"/>
</g>
<g stroke="#222" stroke-width="1.00">
<line x1="1043.8" y1="159.5" x2="1052.8" y2="164.5"/>
<line x1="1043.8" y1="162.1" x2="1052.8" y2="167.1"/>
<line x1="1043.8" y1="164.7" x2="1052.8" y2="169.7"/>
<line x1="1043.8" y1="167.3" x2="1052.8" y2="172.3"/>
<line x1="1043.8" y1="169.9" x2="1052.8" y2="174.9"/>
</g>
<polygon points="1066.8,174.0 1086.8,185.3 1086.8,188.5 1066.8,177.2" fill="#ddd" stroke="#222" stroke-width="0.8"/>
<polygon points="1070.8,183.0 1086.8,192.0 1086.8,195.3 1070.8,186.3" fill="#111"/>
<g stroke="#000" stroke-width="1.50" stroke-linejoin="round">
<polygon points="1092.6,125.9 1102.3,120.3 1117.3,128.5 1117.3,159.5 1102.8,167.0 1102.8,165.5 1092.6,171.8" fill="url(#gGrayR)"/>
<polygon points="1051.8,101.5 1063.0,97.8 1074.3,103.4 1087.4,98.7 1117.3,114.6 1117.3,128.5 1102.3,120.3 1092.6,125.9" fill="#f6f6f6"/>
<polygon points="1051.8,101.5 1092.6,125.9 1092.6,171.8 1051.8,148.4" fill="#ececec"/>
</g>
<g stroke="#222" stroke-width="0.90">
<line x1="1083.8" y1="105.7" x2="1105.8" y2="117.7"/>
<line x1="1085.8" y1="104.8" x2="1107.8" y2="116.8"/>
<line x1="1087.8" y1="103.9" x2="1109.8" y2="115.9"/>
<line x1="1089.8" y1="103.0" x2="1111.8" y2="115.0"/>
<line x1="1091.8" y1="102.1" x2="1113.8" y2="114.1"/>
<line x1="1093.8" y1="101.2" x2="1115.8" y2="113.2"/>
</g>
<polygon points="1057.8,114.5 1086.3,131.5 1086.3,162.5 1057.8,146.0" fill="url(#gScreen)" stroke="#222" stroke-width="1"/>
<circle cx="1083.3" cy="166.0" r="1.6" fill="#fff" stroke="#222" stroke-width="0.8"/>
<g stroke="#000" stroke-width="1.4" stroke-linejoin="round">
<polygon points="1005.8,192.0 1054.8,219.5 1054.8,224.5 1005.8,197.0" fill="#d8d8d8"/>
<polygon points="1054.8,219.5 1077.8,204.0 1077.8,209.0 1054.8,224.5" fill="#bbb"/>
<polygon points="1005.8,192.0 1028.8,176.5 1077.8,204.0 1054.8,219.5" fill="#f7f7f7"/>
</g>
<g stroke="#c4c4c4" stroke-width="0.90">
<line x1="1011.5" y1="188.1" x2="1060.5" y2="215.6"/>
<line x1="1017.3" y1="184.2" x2="1066.3" y2="211.8"/>
<line x1="1023.0" y1="180.4" x2="1072.0" y2="207.9"/>
<line x1="1011.2" y1="195.1" x2="1034.2" y2="179.6"/>
<line x1="1016.7" y1="198.1" x2="1039.7" y2="182.6"/>
<line x1="1022.1" y1="201.2" x2="1045.1" y2="185.7"/>
<line x1="1027.6" y1="204.2" x2="1050.6" y2="188.7"/>
<line x1="1033.0" y1="207.3" x2="1056.0" y2="191.8"/>
<line x1="1038.5" y1="210.3" x2="1061.5" y2="194.8"/>
<line x1="1043.9" y1="213.4" x2="1066.9" y2="197.9"/>
<line x1="1049.4" y1="216.4" x2="1072.4" y2="200.9"/>
</g>
<path d="M1123.0,127.7 C1109.0,129.7 1105.0,149.7 1108.0,165.7 C1115.0,175.7 1153.0,176.7 1162.0,169.7 C1166.0,151.7 1162.0,130.7 1147.0,127.7 C1141.0,131.7 1129.0,131.7 1123.0,127.7 Z" fill="url(#gUser)" stroke="#0a1428" stroke-width="2.90" stroke-linejoin="round" />
<path d="M1116.0,143.7 Q1114.0,157.7 1118.0,169.7" fill="none" stroke="#4278b4" stroke-width="1.00" stroke-linejoin="round" />
<path d="M1154.0,143.7 Q1157.0,157.7 1154.0,170.7" fill="none" stroke="#4278b4" stroke-width="1.00" stroke-linejoin="round" />
<circle cx="1135.0" cy="113.7" r="16.6" fill="url(#gHead)" stroke="#0a1428" stroke-width="2.9"/>
<g stroke="#000" stroke-width="1.50" stroke-linejoin="round">
<polygon points="1127.3,255.0 1171.5,233.5 1221.7,259.7 1176.9,283.0" fill="#f4f4f4"/>
<polygon points="1127.3,255.0 1176.9,283.0 1176.9,300.9 1127.3,272.8" fill="url(#gGrayL)"/>
<polygon points="1176.9,283.0 1221.7,259.7 1221.7,275.6 1176.9,300.9" fill="url(#gGrayR)"/>
</g>
<g stroke="#222" stroke-width="1.00">
<line x1="1130.5" y1="260.5" x2="1139.5" y2="265.5"/>
<line x1="1130.5" y1="263.1" x2="1139.5" y2="268.1"/>
<line x1="1130.5" y1="265.7" x2="1139.5" y2="270.7"/>
<line x1="1130.5" y1="268.3" x2="1139.5" y2="273.3"/>
<line x1="1130.5" y1="270.9" x2="1139.5" y2="275.9"/>
</g>
<polygon points="1153.5,275.0 1173.5,286.3 1173.5,289.5 1153.5,278.2" fill="#ddd" stroke="#222" stroke-width="0.8"/>
<polygon points="1157.5,284.0 1173.5,293.0 1173.5,296.3 1157.5,287.3" fill="#111"/>
<g stroke="#000" stroke-width="1.50" stroke-linejoin="round">
<polygon points="1179.3,226.9 1189.0,221.3 1204.0,229.5 1204.0,260.5 1189.5,268.0 1189.5,266.5 1179.3,272.8" fill="url(#gGrayR)"/>
<polygon points="1138.5,202.5 1149.7,198.8 1161.0,204.4 1174.1,199.7 1204.0,215.6 1204.0,229.5 1189.0,221.3 1179.3,226.9" fill="#f6f6f6"/>
<polygon points="1138.5,202.5 1179.3,226.9 1179.3,272.8 1138.5,249.4" fill="#ececec"/>
</g>
<g stroke="#222" stroke-width="0.90">
<line x1="1170.5" y1="206.7" x2="1192.5" y2="218.7"/>
<line x1="1172.5" y1="205.8" x2="1194.5" y2="217.8"/>
<line x1="1174.5" y1="204.9" x2="1196.5" y2="216.9"/>
<line x1="1176.5" y1="204.0" x2="1198.5" y2="216.0"/>
<line x1="1178.5" y1="203.1" x2="1200.5" y2="215.1"/>
<line x1="1180.5" y1="202.2" x2="1202.5" y2="214.2"/>
</g>
<polygon points="1144.5,215.5 1173.0,232.5 1173.0,263.5 1144.5,247.0" fill="url(#gScreen)" stroke="#222" stroke-width="1"/>
<circle cx="1170.0" cy="267.0" r="1.6" fill="#fff" stroke="#222" stroke-width="0.8"/>
<g stroke="#000" stroke-width="1.4" stroke-linejoin="round">
<polygon points="1092.5,293.0 1141.5,320.5 1141.5,325.5 1092.5,298.0" fill="#d8d8d8"/>
<polygon points="1141.5,320.5 1164.5,305.0 1164.5,310.0 1141.5,325.5" fill="#bbb"/>
<polygon points="1092.5,293.0 1115.5,277.5 1164.5,305.0 1141.5,320.5" fill="#f7f7f7"/>
</g>
<g stroke="#c4c4c4" stroke-width="0.90">
<line x1="1098.2" y1="289.1" x2="1147.2" y2="316.6"/>
<line x1="1104.0" y1="285.2" x2="1153.0" y2="312.8"/>
<line x1="1109.8" y1="281.4" x2="1158.8" y2="308.9"/>
<line x1="1097.9" y1="296.1" x2="1120.9" y2="280.6"/>
<line x1="1103.4" y1="299.1" x2="1126.4" y2="283.6"/>
<line x1="1108.8" y1="302.2" x2="1131.8" y2="286.7"/>
<line x1="1114.3" y1="305.2" x2="1137.3" y2="289.7"/>
<line x1="1119.7" y1="308.3" x2="1142.7" y2="292.8"/>
<line x1="1125.2" y1="311.3" x2="1148.2" y2="295.8"/>
<line x1="1130.6" y1="314.4" x2="1153.6" y2="298.9"/>
<line x1="1136.1" y1="317.4" x2="1159.1" y2="301.9"/>
</g>
<path d="M1208.5,226.0 C1194.5,228.0 1190.5,248.0 1193.5,264.0 C1200.5,274.0 1238.5,275.0 1247.5,268.0 C1251.5,250.0 1247.5,229.0 1232.5,226.0 C1226.5,230.0 1214.5,230.0 1208.5,226.0 Z" fill="url(#gUser)" stroke="#0a1428" stroke-width="2.90" stroke-linejoin="round" />
<path d="M1201.5,242.0 Q1199.5,256.0 1203.5,268.0" fill="none" stroke="#4278b4" stroke-width="1.00" stroke-linejoin="round" />
<path d="M1239.5,242.0 Q1242.5,256.0 1239.5,269.0" fill="none" stroke="#4278b4" stroke-width="1.00" stroke-linejoin="round" />
<circle cx="1220.5" cy="212.0" r="16.6" fill="url(#gHead)" stroke="#0a1428" stroke-width="2.9"/>
<g stroke="#000" stroke-width="1.50" stroke-linejoin="round">
<polygon points="1127.3,369.0 1171.5,347.5 1221.7,373.7 1176.9,397.0" fill="#f4f4f4"/>
<polygon points="1127.3,369.0 1176.9,397.0 1176.9,414.9 1127.3,386.8" fill="url(#gGrayL)"/>
<polygon points="1176.9,397.0 1221.7,373.7 1221.7,389.6 1176.9,414.9" fill="url(#gGrayR)"/>
</g>
<g stroke="#222" stroke-width="1.00">
<line x1="1130.5" y1="374.5" x2="1139.5" y2="379.5"/>
<line x1="1130.5" y1="377.1" x2="1139.5" y2="382.1"/>
<line x1="1130.5" y1="379.7" x2="1139.5" y2="384.7"/>
<line x1="1130.5" y1="382.3" x2="1139.5" y2="387.3"/>
<line x1="1130.5" y1="384.9" x2="1139.5" y2="389.9"/>
</g>
<polygon points="1153.5,389.0 1173.5,400.3 1173.5,403.5 1153.5,392.2" fill="#ddd" stroke="#222" stroke-width="0.8"/>
<polygon points="1157.5,398.0 1173.5,407.0 1173.5,410.3 1157.5,401.3" fill="#111"/>
<g stroke="#000" stroke-width="1.50" stroke-linejoin="round">
<polygon points="1179.3,340.9 1189.0,335.3 1204.0,343.5 1204.0,374.5 1189.5,382.0 1189.5,380.5 1179.3,386.8" fill="url(#gGrayR)"/>
<polygon points="1138.5,316.5 1149.7,312.8 1161.0,318.4 1174.1,313.7 1204.0,329.6 1204.0,343.5 1189.0,335.3 1179.3,340.9" fill="#f6f6f6"/>
<polygon points="1138.5,316.5 1179.3,340.9 1179.3,386.8 1138.5,363.4" fill="#ececec"/>
</g>
<g stroke="#222" stroke-width="0.90">
<line x1="1170.5" y1="320.7" x2="1192.5" y2="332.7"/>
<line x1="1172.5" y1="319.8" x2="1194.5" y2="331.8"/>
<line x1="1174.5" y1="318.9" x2="1196.5" y2="330.9"/>
<line x1="1176.5" y1="318.0" x2="1198.5" y2="330.0"/>
<line x1="1178.5" y1="317.1" x2="1200.5" y2="329.1"/>
<line x1="1180.5" y1="316.2" x2="1202.5" y2="328.2"/>
</g>
<polygon points="1144.5,329.5 1173.0,346.5 1173.0,377.5 1144.5,361.0" fill="url(#gScreen)" stroke="#222" stroke-width="1"/>
<circle cx="1170.0" cy="381.0" r="1.6" fill="#fff" stroke="#222" stroke-width="0.8"/>
<g stroke="#000" stroke-width="1.4" stroke-linejoin="round">
<polygon points="1092.5,407.0 1141.5,434.5 1141.5,439.5 1092.5,412.0" fill="#d8d8d8"/>
<polygon points="1141.5,434.5 1164.5,419.0 1164.5,424.0 1141.5,439.5" fill="#bbb"/>
<polygon points="1092.5,407.0 1115.5,391.5 1164.5,419.0 1141.5,434.5" fill="#f7f7f7"/>
</g>
<g stroke="#c4c4c4" stroke-width="0.90">
<line x1="1098.2" y1="403.1" x2="1147.2" y2="430.6"/>
<line x1="1104.0" y1="399.2" x2="1153.0" y2="426.8"/>
<line x1="1109.8" y1="395.4" x2="1158.8" y2="422.9"/>
<line x1="1097.9" y1="410.1" x2="1120.9" y2="394.6"/>
<line x1="1103.4" y1="413.1" x2="1126.4" y2="397.6"/>
<line x1="1108.8" y1="416.2" x2="1131.8" y2="400.7"/>
<line x1="1114.3" y1="419.2" x2="1137.3" y2="403.7"/>
<line x1="1119.7" y1="422.3" x2="1142.7" y2="406.8"/>
<line x1="1125.2" y1="425.3" x2="1148.2" y2="409.8"/>
<line x1="1130.6" y1="428.4" x2="1153.6" y2="412.9"/>
<line x1="1136.1" y1="431.4" x2="1159.1" y2="415.9"/>
</g>
<path d="M1208.5,339.5 C1194.5,341.5 1190.5,361.5 1193.5,377.5 C1200.5,387.5 1238.5,388.5 1247.5,381.5 C1251.5,363.5 1247.5,342.5 1232.5,339.5 C1226.5,343.5 1214.5,343.5 1208.5,339.5 Z" fill="url(#gUser)" stroke="#0a1428" stroke-width="2.90" stroke-linejoin="round" />
<path d="M1201.5,355.5 Q1199.5,369.5 1203.5,381.5" fill="none" stroke="#4278b4" stroke-width="1.00" stroke-linejoin="round" />
<path d="M1239.5,355.5 Q1242.5,369.5 1239.5,382.5" fill="none" stroke="#4278b4" stroke-width="1.00" stroke-linejoin="round" />
<circle cx="1220.5" cy="325.5" r="16.6" fill="url(#gHead)" stroke="#0a1428" stroke-width="2.9"/>
<g stroke="#000" stroke-width="1.50" stroke-linejoin="round">
<polygon points="906.3,292.5 950.5,271.0 1000.7,297.2 955.9,320.5" fill="#f4f4f4"/>
<polygon points="906.3,292.5 955.9,320.5 955.9,338.4 906.3,310.3" fill="url(#gGrayL)"/>
<polygon points="955.9,320.5 1000.7,297.2 1000.7,313.1 955.9,338.4" fill="url(#gGrayR)"/>
</g>
<g stroke="#222" stroke-width="1.00">
<line x1="909.5" y1="298.0" x2="918.5" y2="303.0"/>
<line x1="909.5" y1="300.6" x2="918.5" y2="305.6"/>
<line x1="909.5" y1="303.2" x2="918.5" y2="308.2"/>
<line x1="909.5" y1="305.8" x2="918.5" y2="310.8"/>
<line x1="909.5" y1="308.4" x2="918.5" y2="313.4"/>
</g>
<polygon points="932.5,312.5 952.5,323.8 952.5,327.0 932.5,315.7" fill="#ddd" stroke="#222" stroke-width="0.8"/>
<polygon points="936.5,321.5 952.5,330.5 952.5,333.8 936.5,324.8" fill="#111"/>
<g stroke="#000" stroke-width="1.50" stroke-linejoin="round">
<polygon points="958.3,264.4 968.0,258.8 983.0,267.0 983.0,298.0 968.5,305.5 968.5,304.0 958.3,310.3" fill="url(#gGrayR)"/>
<polygon points="917.5,240.0 928.7,236.3 940.0,241.9 953.1,237.2 983.0,253.1 983.0,267.0 968.0,258.8 958.3,264.4" fill="#f6f6f6"/>
<polygon points="917.5,240.0 958.3,264.4 958.3,310.3 917.5,286.9" fill="#ececec"/>
</g>
<g stroke="#222" stroke-width="0.90">
<line x1="949.5" y1="244.2" x2="971.5" y2="256.2"/>
<line x1="951.5" y1="243.3" x2="973.5" y2="255.3"/>
<line x1="953.5" y1="242.4" x2="975.5" y2="254.4"/>
<line x1="955.5" y1="241.5" x2="977.5" y2="253.5"/>
<line x1="957.5" y1="240.6" x2="979.5" y2="252.6"/>
<line x1="959.5" y1="239.7" x2="981.5" y2="251.7"/>
</g>
<polygon points="923.5,253.0 952.0,270.0 952.0,301.0 923.5,284.5" fill="url(#gScreen)" stroke="#222" stroke-width="1"/>
<circle cx="949.0" cy="304.5" r="1.6" fill="#fff" stroke="#222" stroke-width="0.8"/>
<g stroke="#000" stroke-width="1.4" stroke-linejoin="round">
<polygon points="871.5,330.5 920.5,358.0 920.5,363.0 871.5,335.5" fill="#d8d8d8"/>
<polygon points="920.5,358.0 943.5,342.5 943.5,347.5 920.5,363.0" fill="#bbb"/>
<polygon points="871.5,330.5 894.5,315.0 943.5,342.5 920.5,358.0" fill="#f7f7f7"/>
</g>
<g stroke="#c4c4c4" stroke-width="0.90">
<line x1="877.2" y1="326.6" x2="926.2" y2="354.1"/>
<line x1="883.0" y1="322.8" x2="932.0" y2="350.2"/>
<line x1="888.8" y1="318.9" x2="937.8" y2="346.4"/>
<line x1="876.9" y1="333.6" x2="899.9" y2="318.1"/>
<line x1="882.4" y1="336.6" x2="905.4" y2="321.1"/>
<line x1="887.8" y1="339.7" x2="910.8" y2="324.2"/>
<line x1="893.3" y1="342.7" x2="916.3" y2="327.2"/>
<line x1="898.7" y1="345.8" x2="921.7" y2="330.3"/>
<line x1="904.2" y1="348.8" x2="927.2" y2="333.3"/>
<line x1="909.6" y1="351.9" x2="932.6" y2="336.4"/>
<line x1="915.1" y1="354.9" x2="938.1" y2="339.4"/>
</g>
<path d="M987.5,263.5 C973.5,265.5 969.5,285.5 972.5,301.5 C979.5,311.5 1017.5,312.5 1026.5,305.5 C1030.5,287.5 1026.5,266.5 1011.5,263.5 C1005.5,267.5 993.5,267.5 987.5,263.5 Z" fill="url(#gUser)" stroke="#0a1428" stroke-width="2.90" stroke-linejoin="round" />
<path d="M980.5,279.5 Q978.5,293.5 982.5,305.5" fill="none" stroke="#4278b4" stroke-width="1.00" stroke-linejoin="round" />
<path d="M1018.5,279.5 Q1021.5,293.5 1018.5,306.5" fill="none" stroke="#4278b4" stroke-width="1.00" stroke-linejoin="round" />
<circle cx="999.5" cy="249.5" r="16.6" fill="url(#gHead)" stroke="#0a1428" stroke-width="2.9"/>
<g fill="#22dd22"><ellipse cx="303" cy="333" rx="17" ry="21"/><ellipse cx="292" cy="357" rx="17" ry="10"/></g>
<path d="M175.7,221.0 L225.6,248.8 L225.6,361.0 L189.7,354.0 Q175.7,344.0 175.7,328.0 Z" fill="url(#gBigL)" stroke="#000" stroke-width="2.00" stroke-linejoin="round" />
<polygon points="225.6,248.8 307.0,202.7 307.0,317.0 225.6,361.0" fill="url(#gBigR)" stroke="#000" stroke-width="2.00" stroke-linejoin="round" />
<polygon points="175.7,221.0 257.0,175.7 307.0,202.7 225.6,248.8" fill="url(#gBigTop)" stroke="#000" stroke-width="2.00" stroke-linejoin="round" />
<line x1="226.4" y1="249.8" x2="226.4" y2="359.5" stroke="#d8ffd0" stroke-width="1.00" />
<line x1="226.6" y1="248.5" x2="305.5" y2="203.5" stroke="#e8ffe0" stroke-width="1.00" />
<path d="M177.2,222.2 Q200.0,243.0 225.1,249.6" fill="none" stroke="#d8ffd0" stroke-width="1.00" stroke-linejoin="round" />
<path d="M183,243 Q198,252 218,262" fill="none" stroke="#0c9c2c" stroke-width="3.20" stroke-linejoin="round" stroke-linecap="round"/>
<ellipse cx="196.5" cy="255.5" rx="4.8" ry="2.8" fill="#c8f4b8" transform="rotate(25 196.5 255.5)"/>
<polygon points="183.5,256.0 218.0,273.0 218.0,282.0 183.5,265.0" fill="#7fe860" stroke="#0c8c2c" stroke-width="1.20" stroke-linejoin="round" />
<circle cx="198.5" cy="295" r="4" fill="#18a838" stroke="#0a6a20" stroke-width="1"/>
<line x1="183.5" y1="313.0" x2="217.0" y2="331.0" stroke="#0a7a26" stroke-width="1.50" />
<line x1="183.5" y1="320.2" x2="217.0" y2="338.2" stroke="#0a7a26" stroke-width="1.50" />
<line x1="183.5" y1="327.4" x2="217.0" y2="345.4" stroke="#0a7a26" stroke-width="1.50" />
<g stroke="#000" stroke-width="1.4" stroke-linejoin="round">
<polygon points="248.0,335.0 270.0,324.0 302.0,341.0 280.0,353.0" fill="#f6f6f6"/>
<polygon points="248.0,335.0 280.0,353.0 280.0,363.0 248.0,345.0" fill="#e4e4e4"/>
<polygon points="280.0,353.0 302.0,341.0 302.0,351.0 280.0,363.0" fill="#c4c4c4"/>
<polygon points="277.0,323.0 283.0,320.0 291.0,324.5 291.0,343.0 283.0,348.0 277.0,350.0" fill="#d0d0d0"/>
<polygon points="254.0,310.0 260.0,307.0 267.0,310.5 274.0,307.5 291.0,317.0 291.0,324.5 283.0,320.0 277.0,323.0" fill="#f8f8f8"/>
<polygon points="254.0,310.0 277.0,323.0 277.0,350.0 254.0,337.0" fill="#ececec"/>
</g>
<polygon points="257.5,317.0 273.5,326.0 273.5,344.0 257.5,335.0" fill="url(#gScreen)" stroke="#222" stroke-width="0.9"/>
<g stroke="#222" stroke-width="0.8">
<line x1="272.0" y1="310.5" x2="284.0" y2="317.0"/>
<line x1="273.8" y1="309.7" x2="285.8" y2="316.2"/>
<line x1="275.6" y1="308.9" x2="287.6" y2="315.4"/>
<line x1="277.4" y1="308.1" x2="289.4" y2="314.6"/>
<line x1="250.0" y1="339.0" x2="255.0" y2="341.8"/>
<line x1="250.0" y1="341.0" x2="255.0" y2="343.8"/>
<line x1="250.0" y1="343.0" x2="255.0" y2="345.8"/>
<line x1="250.0" y1="345.0" x2="255.0" y2="347.8"/>
</g>
<polygon points="266.0,351.0 276.0,356.6 276.0,358.6 266.0,353.0" fill="#111"/>
<polygon points="264.0,346.0 276.0,352.6 276.0,354.4 264.0,347.8" fill="#ddd" stroke="#222" stroke-width="0.6"/>
<g stroke="#000" stroke-width="1.3" stroke-linejoin="round">
<polygon points="227.0,361.0 255.0,377.0 255.0,380.0 227.0,364.0" fill="#ccc"/>
<polygon points="255.0,377.0 269.0,368.0 269.0,371.0 255.0,380.0" fill="#aaa"/>
<polygon points="227.0,361.0 241.0,352.0 269.0,368.0 255.0,377.0" fill="#f8f8f8"/>
</g>
<g stroke="#c8c8c8" stroke-width="0.8">
<line x1="231.7" y1="358.0" x2="259.7" y2="374.0"/>
<line x1="236.3" y1="355.0" x2="264.3" y2="371.0"/>
<line x1="231.7" y1="363.7" x2="245.7" y2="354.7"/>
<line x1="236.3" y1="366.3" x2="250.3" y2="357.3"/>
<line x1="241.0" y1="369.0" x2="255.0" y2="360.0"/>
<line x1="245.7" y1="371.7" x2="259.7" y2="362.7"/>
<line x1="250.3" y1="374.3" x2="264.3" y2="365.3"/>
</g>
<text x="171.0" y="391.0" font-size="23.6" fill="#222" font-weight="400" text-anchor="start" >安全审计中心</text>
<path d="M172.0,952.2 A21.9,21.9 0 0 1 167.0,917.3 A16.3,16.3 0 0 1 176.5,904.0 A22.2,22.2 0 0 1 183.8,883.1 A27.7,27.7 0 0 1 227.6,874.9 A21.9,21.9 0 0 1 269.1,863.6 A16.3,16.3 0 0 1 294.2,842.8 A21.3,21.3 0 0 1 322.9,832.6 A18.7,18.7 0 0 1 358.2,839.2 A25.5,25.5 0 0 1 383.6,855.2 A19.5,19.5 0 0 1 387.1,886.5 A21.4,21.4 0 0 1 390.5,920.9 A23.0,23.0 0 0 1 381.9,957.0 A30.7,30.7 0 0 1 335.0,972.6 A20.8,20.8 0 0 1 304.2,986.1 A15.3,15.3 0 0 1 280.0,990.6 A27.1,27.1 0 0 1 233.6,986.1 A15.2,15.2 0 0 1 210.6,977.5 A20.7,20.7 0 0 1 182.9,959.0 A7.9,7.9 0 0 1 172.0,952.2Z" fill="url(#gCloud)" stroke="#0a1626" stroke-width="1.40" stroke-linejoin="round" />
<g clip-path="url(#cl3)" fill="#3f7fc4" opacity="0.33">
<ellipse cx="233.1" cy="915.6" rx="61.6" ry="18.2"/>
<ellipse cx="209.4" cy="926.6" rx="37.9" ry="12.7"/>
<ellipse cx="318.4" cy="912.0" rx="37.9" ry="16.4"/>
<ellipse cx="346.9" cy="921.1" rx="33.2" ry="12.7"/>
<ellipse cx="285.2" cy="948.4" rx="52.1" ry="12.7"/>
<ellipse cx="195.2" cy="893.8" rx="23.7" ry="21.8"/>
</g>
<line x1="250.0" y1="843.0" x2="255.0" y2="856.0" stroke="#111" stroke-width="1.00" />
<g stroke="#1848d8" stroke-width="1.1" stroke-dasharray="7 4">
<line x1="280.0" y1="903.0" x2="206.6" y2="883.0"/>
<line x1="280.0" y1="903.0" x2="196.0" y2="933.5"/>
<line x1="280.0" y1="903.0" x2="241.7" y2="961.6"/>
<line x1="280.0" y1="903.0" x2="296.7" y2="957.0"/>
<line x1="280.0" y1="903.0" x2="334.0" y2="933.5"/>
<line x1="280.0" y1="903.0" x2="348.0" y2="883.0"/>
<line x1="280.0" y1="903.0" x2="294.4" y2="861.0"/>
<line x1="280.0" y1="903.0" x2="263.0" y2="860.0"/>
</g>
<path d="M149.7,854.6 Q149.7,850.3 153.4,848.0 L160.8,843.3 Q164.4,841.0 168.1,843.2 L189.4,856.0 Q193.0,858.2 193.0,862.5 L193.0,870.1 Q193.0,874.4 189.4,876.7 L181.6,881.6 Q178.0,884.0 174.3,881.9 L153.5,870.3 Q149.7,868.2 149.7,863.9 Z" fill="url(#gGrayTop)" stroke="#000" stroke-width="1.70" stroke-linejoin="round" />
<polygon points="150.8,852.1 177.3,866.1 177.3,881.8 150.8,866.8" fill="#e9e9e9" stroke="#222" stroke-width="0.90" stroke-linejoin="round" />
<polygon points="178.7,866.1 192.0,860.3 192.0,872.6 178.7,881.8" fill="url(#gGrayR)" stroke="none" stroke-width="0.00" stroke-linejoin="round" />
<polygon points="152.2,855.3 160.5,860.0 160.5,870.4 152.2,865.7" fill="#b8e018" stroke="#4c6a00" stroke-width="0.80" stroke-linejoin="round" />
<polygon points="164.8,862.1 174.8,867.9 174.8,879.3 164.8,873.6" fill="#dcdcdc" stroke="#111" stroke-width="1.00" stroke-linejoin="round" />
<circle cx="167.6" cy="866.8" r="1.6" fill="#eee" stroke="#111" stroke-width="0.8"/>
<circle cx="171.9" cy="869.1" r="1.6" fill="#eee" stroke="#111" stroke-width="0.8"/>
<line x1="166.2" y1="871.1" x2="173.4" y2="875.0" stroke="#fff" stroke-width="1.07" />
<path d="M288.5,831.6 V849.2 A22.3,13.7 0 0 0 333.1,849.2 V831.6 Z" fill="url(#gCyl)" stroke="#000" stroke-width="1.72" stroke-linejoin="round" />
<ellipse cx="310.8" cy="831.6" rx="22.3" ry="13.7" fill="#f6f6f6" stroke="#000" stroke-width="1.55"/>
<line x1="295.0" y1="823.2" x2="306.4" y2="829.2" stroke="#7a0c0c" stroke-width="2.44" />
<line x1="295.0" y1="823.2" x2="306.4" y2="829.2" stroke="#dc1c1c" stroke-width="1.70" />
<polygon points="310.5,825.2 300.2,832.1 310.2,831.7" fill="#dc1c1c" stroke="#7a0c0c" stroke-width="0.44" stroke-linejoin="round" />
<line x1="311.5" y1="831.2" x2="321.9" y2="825.5" stroke="#7a0c0c" stroke-width="2.44" />
<line x1="311.5" y1="831.2" x2="321.9" y2="825.5" stroke="#dc1c1c" stroke-width="1.70" />
<polygon points="326.3,823.2 315.0,823.5 326.3,829.2" fill="#dc1c1c" stroke="#7a0c0c" stroke-width="0.44" stroke-linejoin="round" />
<line x1="310.1" y1="832.2" x2="299.7" y2="838.9" stroke="#7a0c0c" stroke-width="2.44" />
<line x1="310.1" y1="832.2" x2="299.7" y2="838.9" stroke="#dc1c1c" stroke-width="1.70" />
<polygon points="295.6,841.4 295.8,834.3 305.8,841.1" fill="#dc1c1c" stroke="#7a0c0c" stroke-width="0.44" stroke-linejoin="round" />
<line x1="326.6" y1="841.1" x2="315.2" y2="834.6" stroke="#7a0c0c" stroke-width="2.44" />
<line x1="326.6" y1="841.1" x2="315.2" y2="834.6" stroke="#dc1c1c" stroke-width="1.70" />
<polygon points="310.8,832.1 321.8,832.1 310.5,838.2" fill="#dc1c1c" stroke="#7a0c0c" stroke-width="0.44" stroke-linejoin="round" />
<polygon points="353.3,868.0 382.2,884.5 382.2,902.2 353.3,885.2" fill="url(#gGrayL)" stroke="none" stroke-width="0.00" stroke-linejoin="round" />
<polygon points="382.2,884.5 411.9,867.7 411.9,885.2 382.2,902.2" fill="url(#gGrayR)" stroke="none" stroke-width="0.00" stroke-linejoin="round" />
<polygon points="353.3,868.0 382.2,851.0 411.9,867.7 382.2,884.5" fill="#f3f3f3" stroke="none" stroke-width="0.00" stroke-linejoin="round" />
<line x1="382.2" y1="884.5" x2="411.9" y2="867.7" stroke="#ffffff" stroke-width="1.04" />
<line x1="353.3" y1="868.0" x2="382.2" y2="884.5" stroke="#111" stroke-width="0.74" />
<line x1="382.2" y1="884.5" x2="382.2" y2="902.2" stroke="#111" stroke-width="0.74" />
<polygon points="353.3,868.0 382.2,851.0 411.9,867.7 411.9,885.2 382.2,902.2 353.3,885.2" fill="none" stroke="#000" stroke-width="1.81" stroke-linejoin="round" />
<polygon points="392.0,861.8 383.6,858.4 384.5,856.3 377.8,857.1 382.0,862.5 382.9,860.3 391.2,863.7" fill="#dc1c1c" stroke="#7a0c0c" stroke-width="0.44" stroke-linejoin="round" />
<polygon points="380.8,868.6 372.2,865.2 373.0,863.0 366.3,864.0 370.6,869.2 371.4,867.0 380.1,870.4" fill="#dc1c1c" stroke="#7a0c0c" stroke-width="0.44" stroke-linejoin="round" />
<polygon points="384.4,867.2 392.9,870.8 392.0,872.9 398.7,872.2 394.5,866.8 393.6,868.9 385.2,865.4" fill="#dc1c1c" stroke="#7a0c0c" stroke-width="0.44" stroke-linejoin="round" />
<polygon points="372.6,874.3 381.0,877.9 380.1,880.0 386.9,879.3 382.7,873.9 381.8,876.0 373.4,872.4" fill="#dc1c1c" stroke="#7a0c0c" stroke-width="0.44" stroke-linejoin="round" />
<path d="M150.9,926.7 L165.3,934.8 L167.1,968.3 L156.4,963.6 Q150.9,961.1 150.9,955.0 Z" fill="url(#gSrvL)" stroke="none" stroke-width="0.00" stroke-linejoin="round" />
<polygon points="165.3,934.8 190.1,921.1 190.1,955.0 167.1,968.3" fill="url(#gSrvR)" stroke="none" stroke-width="0.00" stroke-linejoin="round" />
<polygon points="150.9,926.7 171.6,914.8 178.7,914.9 190.1,921.1 165.3,934.8" fill="url(#gSrvTop)" stroke="none" stroke-width="0.00" stroke-linejoin="round" />
<line x1="165.3" y1="935.8" x2="167.1" y2="966.3" stroke="#fffdf6" stroke-width="1.15" opacity="0.9"/>
<path d="M152.4,927.5 L165.3,934.8 L188.6,921.7" fill="none" stroke="#fffdf8" stroke-width="1.08" stroke-linejoin="round" opacity="0.85"/>
<path d="M150.9,926.7 L171.6,914.8 L178.7,914.9 L190.1,921.1 L190.1,955.0 L167.1,968.3 L156.4,963.6 Q150.9,961.1 150.9,955.0 Z" fill="none" stroke="#000" stroke-width="1.70" stroke-linejoin="round" />
<path d="M153.8,936.9 L163.7,939.1" fill="none" stroke="#0a0a0a" stroke-width="1.30" stroke-linejoin="round" stroke-linecap="round"/>
<path d="M154.2,939.1 L163.7,942.1 L163.7,944.9" fill="none" stroke="#0a0a0a" stroke-width="1.58" stroke-linejoin="round" stroke-linecap="round"/>
<circle cx="158.2" cy="949.4" r="1.2" fill="#9aa890" stroke="#1a2a1a" stroke-width="0.8"/>
<line x1="153.5" y1="955.1" x2="163.8" y2="960.4" stroke="#111" stroke-width="0.79" />
<line x1="153.5" y1="957.6" x2="163.8" y2="962.8" stroke="#111" stroke-width="0.79" />
<line x1="153.5" y1="960.0" x2="163.8" y2="965.3" stroke="#111" stroke-width="0.79" />
<path d="M170.7,953.5 V964.3 A6.1,2.9 0 0 0 182.9,964.3 V953.5 Z" fill="url(#gDb)" stroke="#000" stroke-width="1.08" stroke-linejoin="round" />
<ellipse cx="176.8" cy="953.5" rx="6.1" ry="2.9" fill="#b8d2ee" stroke="#000" stroke-width="1.1"/>
<polygon points="208.0,969.1 236.3,984.6 236.3,1015.7 208.0,1000.0" fill="url(#gYelL)" stroke="#000" stroke-width="1.62" stroke-linejoin="round" />
<polygon points="236.3,984.6 249.5,976.5 249.5,1008.3 236.3,1015.7" fill="url(#gYelR)" stroke="#000" stroke-width="1.62" stroke-linejoin="round" />
<polygon points="208.0,969.1 221.8,960.4 249.5,976.5 236.3,984.6" fill="url(#gYelTop)" stroke="#000" stroke-width="1.62" stroke-linejoin="round" />
<g transform="matrix(1,0.565,0,1,225.4,992.2) scale(0.730)">
<line x1="-8.4" y1="9.6" x2="-19" y2="21.3" stroke="#1c1c08" stroke-width="2.6" stroke-linecap="round"/>
<line x1="-8.4" y1="9.6" x2="-19" y2="21.3" stroke="#fdf8cc" stroke-width="1.3" stroke-linecap="round"/>
<circle cx="0" cy="0" r="11.3" fill="#b4d2d2" stroke="#1c1c08" stroke-width="3.4"/>
<circle cx="0" cy="0" r="11.3" fill="none" stroke="#fdf8cc" stroke-width="2.0"/>
<rect x="-4.6" y="-8" width="9.2" height="15" fill="#d4e46c" stroke="#f6fbe0" stroke-width="1"/>
</g>
<polygon points="273.1,960.8 300.7,976.2 300.7,1014.9 273.1,998.4" fill="url(#gFwL)" stroke="#000" stroke-width="1.70" stroke-linejoin="round" />
<polygon points="300.7,976.2 310.3,970.8 310.3,1009.4 300.7,1014.9" fill="url(#gFwR)" stroke="#000" stroke-width="1.70" stroke-linejoin="round" />
<polygon points="273.1,960.8 282.7,955.7 310.3,970.8 300.7,976.2" fill="#f8a868" stroke="#000" stroke-width="1.70" stroke-linejoin="round" />
<g stroke="#fbd2a6" stroke-width="0.77">
<line x1="273.9" y1="967.1" x2="299.9" y2="982.5"/>
<line x1="273.9" y1="973.3" x2="299.9" y2="988.7"/>
<line x1="273.9" y1="979.6" x2="299.9" y2="995.0"/>
<line x1="273.9" y1="985.9" x2="299.9" y2="1001.3"/>
<line x1="273.9" y1="992.1" x2="299.9" y2="1007.5"/>
<line x1="282.2" y1="965.9" x2="282.2" y2="972.2"/>
<line x1="294.6" y1="972.8" x2="294.6" y2="979.1"/>
<line x1="276.4" y1="968.9" x2="276.4" y2="975.2"/>
<line x1="288.6" y1="975.7" x2="288.6" y2="982.0"/>
<line x1="282.2" y1="978.4" x2="282.2" y2="984.7"/>
<line x1="294.6" y1="985.4" x2="294.6" y2="991.6"/>
<line x1="276.4" y1="981.5" x2="276.4" y2="987.7"/>
<line x1="288.6" y1="988.2" x2="288.6" y2="994.5"/>
<line x1="282.2" y1="991.0" x2="282.2" y2="997.2"/>
<line x1="294.6" y1="997.9" x2="294.6" y2="1004.1"/>
<line x1="276.4" y1="994.0" x2="276.4" y2="1000.2"/>
<line x1="288.6" y1="1000.8" x2="288.6" y2="1007.0"/>
<line x1="301.5" y1="982.5" x2="309.5" y2="977.1" opacity="0.7"/>
<line x1="301.5" y1="988.7" x2="309.5" y2="983.4" opacity="0.7"/>
<line x1="301.5" y1="995.0" x2="309.5" y2="989.6" opacity="0.7"/>
<line x1="301.5" y1="1001.3" x2="309.5" y2="995.9" opacity="0.7"/>
<line x1="301.5" y1="1007.5" x2="309.5" y2="1002.1" opacity="0.7"/>
</g>
<path d="M332.9,942.2 L349.1,951.3 L351.1,989.0 L339.1,983.8 Q332.9,980.9 332.9,974.0 Z" fill="url(#gSrvL)" stroke="none" stroke-width="0.00" stroke-linejoin="round" />
<polygon points="349.1,951.3 377.0,935.9 377.0,974.0 351.1,989.0" fill="url(#gSrvR)" stroke="none" stroke-width="0.00" stroke-linejoin="round" />
<polygon points="332.9,942.2 356.2,928.8 364.2,929.0 377.0,935.9 349.1,951.3" fill="url(#gSrvTop)" stroke="none" stroke-width="0.00" stroke-linejoin="round" />
<line x1="349.1" y1="952.3" x2="351.1" y2="987.0" stroke="#fffdf6" stroke-width="1.30" opacity="0.9"/>
<path d="M334.4,943.0 L349.1,951.3 L375.5,936.5" fill="none" stroke="#fffdf8" stroke-width="1.22" stroke-linejoin="round" opacity="0.85"/>
<path d="M332.9,942.2 L356.2,928.8 L364.2,929.0 L377.0,935.9 L377.0,974.0 L351.1,989.0 L339.1,983.8 Q332.9,980.9 332.9,974.0 Z" fill="none" stroke="#000" stroke-width="1.80" stroke-linejoin="round" />
<path d="M336.1,953.7 L347.3,956.1" fill="none" stroke="#0a0a0a" stroke-width="1.46" stroke-linejoin="round" stroke-linecap="round"/>
<path d="M336.6,956.1 L347.3,959.5 L347.3,962.6" fill="none" stroke="#0a0a0a" stroke-width="1.78" stroke-linejoin="round" stroke-linecap="round"/>
<circle cx="341.1" cy="967.7" r="1.4" fill="#9aa890" stroke="#1a2a1a" stroke-width="0.9"/>
<line x1="335.8" y1="974.2" x2="347.4" y2="980.0" stroke="#111" stroke-width="0.89" />
<line x1="335.8" y1="976.9" x2="347.4" y2="982.8" stroke="#111" stroke-width="0.89" />
<line x1="335.8" y1="979.7" x2="347.4" y2="985.6" stroke="#111" stroke-width="0.89" />
<polygon points="358.0,972.5 376.5,983.2 376.5,994.7 358.0,984.0" fill="#7cc89a" stroke="#0a2a18" stroke-width="1.18" stroke-linejoin="round" />
<polygon points="359.9,975.5 374.6,984.0 374.6,991.7 359.9,983.2" fill="#a8e0bc" stroke="none" stroke-width="0.00" stroke-linejoin="round" />
<ellipse cx="367.2" cy="983.6" rx="3.1" ry="3.7" fill="#8fd2aa" stroke="#3f8a5c" stroke-width="0.6" transform="rotate(30 367.2 983.6)"/>
<path d="M258.4,880.4 L275.0,889.8 L277.1,928.4 L264.8,923.0 Q258.4,920.1 258.4,913.0 Z" fill="url(#gSrvL)" stroke="none" stroke-width="0.00" stroke-linejoin="round" />
<polygon points="275.0,889.8 303.6,874.0 303.6,913.0 277.1,928.4" fill="url(#gSrvR)" stroke="none" stroke-width="0.00" stroke-linejoin="round" />
<polygon points="258.4,880.4 282.3,866.7 290.5,866.9 303.6,874.0 275.0,889.8" fill="url(#gSrvTop)" stroke="none" stroke-width="0.00" stroke-linejoin="round" />
<line x1="275.0" y1="890.8" x2="277.1" y2="926.4" stroke="#fffdf6" stroke-width="1.33" opacity="0.9"/>
<path d="M259.9,881.2 L275.0,889.8 L302.1,874.6" fill="none" stroke="#fffdf8" stroke-width="1.24" stroke-linejoin="round" opacity="0.85"/>
<path d="M258.4,880.4 L282.3,866.7 L290.5,866.9 L303.6,874.0 L303.6,913.0 L277.1,928.4 L264.8,923.0 Q258.4,920.1 258.4,913.0 Z" fill="none" stroke="#000" stroke-width="1.82" stroke-linejoin="round" />
<path d="M261.7,892.2 L273.2,894.7" fill="none" stroke="#0a0a0a" stroke-width="1.49" stroke-linejoin="round" stroke-linecap="round"/>
<path d="M262.2,894.7 L273.2,898.2 L273.2,901.4" fill="none" stroke="#0a0a0a" stroke-width="1.83" stroke-linejoin="round" stroke-linecap="round"/>
<circle cx="266.9" cy="906.6" r="1.4" fill="#9aa890" stroke="#1a2a1a" stroke-width="0.9"/>
<line x1="261.4" y1="913.2" x2="273.3" y2="919.2" stroke="#111" stroke-width="0.91" />
<line x1="261.4" y1="916.0" x2="273.3" y2="922.0" stroke="#111" stroke-width="0.91" />
<line x1="261.4" y1="918.9" x2="273.3" y2="924.9" stroke="#111" stroke-width="0.91" />
<circle cx="291.0" cy="918.5" r="7.0" fill="url(#gGlobe)" stroke="#080840" stroke-width="1.2"/>
<path d="M287.1,914.6 q3.5,-3.1 6.6,-0.4 q-0.4,3.5 -3.1,4.2 q0.7,3.5 -1.1,5.6 q-3.5,-2.1 -2.4,-7.4 Z" fill="#22c43a" stroke="none" stroke-width="0.00" stroke-linejoin="round" />
<rect x="295.5" y="923.5" width="6.5" height="6.8" fill="#fff59a" stroke="#111" stroke-width="1.1"/>
<rect x="302.7" y="923.5" width="6.5" height="6.8" fill="#fff59a" stroke="#111" stroke-width="1.1"/>
<polygon points="296.2,922.1 302.0,917.7 304.9,919.9 301.3,922.8" fill="#fdf6b0" stroke="#111" stroke-width="0.86" stroke-linejoin="round" />
<g fill="#22ee22">
<ellipse cx="91.9" cy="819.4" rx="10.7" ry="13.5"/>
<ellipse cx="82.6" cy="835.2" rx="13.0" ry="6.5"/>
</g>
<path d="M30.8,771.8 L54.0,784.9 L56.9,838.8 L39.7,831.3 Q30.8,827.2 30.8,817.3 Z" fill="#10ec10" stroke="#003c00" stroke-width="1.20" stroke-linejoin="round" />
<polygon points="54.0,784.9 93.9,762.9 93.9,817.3 56.9,838.8" fill="#12f012" stroke="#003c00" stroke-width="1.20" stroke-linejoin="round" />
<polygon points="30.8,771.8 69.0,749.6 70.2,749.6 93.9,762.9 54.0,784.9" fill="#14f014" stroke="#003c00" stroke-width="1.20" stroke-linejoin="round" />
<path d="M33.6,782.1 Q42.4,784.2 52.1,794.3" fill="none" stroke="#0a6a0a" stroke-width="1.16" stroke-linejoin="round" stroke-linecap="round"/>
<polygon points="34.1,785.8 51.7,796.9 51.7,801.6 34.1,789.9" fill="#0a6a0a" stroke="none" stroke-width="0.00" stroke-linejoin="round" />
<circle cx="40.5" cy="806.3" r="2.2" fill="#0c9c0c" stroke="#064" stroke-width="0.9"/>
<line x1="33.1" y1="811.3" x2="51.2" y2="826.2" stroke="#0a7a0a" stroke-width="1.51" />
<line x1="33.1" y1="816.2" x2="51.2" y2="831.0" stroke="#0a7a0a" stroke-width="1.51" />
<line x1="33.1" y1="821.1" x2="51.2" y2="835.9" stroke="#0a7a0a" stroke-width="1.51" />
<g stroke="#003c00" stroke-width="1.10" stroke-linejoin="round" fill="#14f014">
<polygon points="57.2,840.1 64.5,835.2 76.0,841.7 68.6,846.6"/>
<polygon points="65.4,831.1 76.8,825.4 89.1,831.9 89.1,836.0 77.6,842.5 65.4,835.2"/>
<polygon points="68.6,813.9 72.7,811.4 76.8,813.1 79.3,811.4 84.2,814.7 84.2,829.4 78.5,833.5 68.6,828.6"/>
<polygon points="70.3,816.4 77.6,820.4 77.6,830.3 70.3,826.2"/>
<line x1="77.6" y1="837.6" x2="82.5" y2="835.2" stroke-width="1.6"/>
</g>
<path d="M865.0,956.2 A21.9,21.9 0 0 1 860.0,921.3 A16.3,16.3 0 0 1 869.5,908.0 A22.2,22.2 0 0 1 876.8,887.1 A27.7,27.7 0 0 1 920.6,878.9 A21.9,21.9 0 0 1 962.1,867.6 A16.3,16.3 0 0 1 987.2,846.8 A21.3,21.3 0 0 1 1015.9,836.6 A18.7,18.7 0 0 1 1051.2,843.2 A25.5,25.5 0 0 1 1076.6,859.2 A19.5,19.5 0 0 1 1080.2,890.5 A21.4,21.4 0 0 1 1083.5,924.9 A23.0,23.0 0 0 1 1074.9,961.0 A30.7,30.7 0 0 1 1028.0,976.6 A20.8,20.8 0 0 1 997.2,990.1 A15.3,15.3 0 0 1 973.0,994.6 A27.1,27.1 0 0 1 926.6,990.1 A15.2,15.2 0 0 1 903.6,981.5 A20.7,20.7 0 0 1 875.9,963.0 A7.9,7.9 0 0 1 865.0,956.2Z" fill="url(#gCloud)" stroke="#0a1626" stroke-width="1.40" stroke-linejoin="round" />
<g clip-path="url(#cl4)" fill="#3f7fc4" opacity="0.33">
<ellipse cx="926.1" cy="919.6" rx="61.6" ry="18.2"/>
<ellipse cx="902.4" cy="930.6" rx="37.9" ry="12.7"/>
<ellipse cx="1011.4" cy="916.0" rx="37.9" ry="16.4"/>
<ellipse cx="1039.9" cy="925.1" rx="33.2" ry="12.7"/>
<ellipse cx="978.2" cy="952.4" rx="52.1" ry="12.7"/>
<ellipse cx="888.2" cy="897.8" rx="23.7" ry="21.8"/>
</g>
<line x1="943.0" y1="847.0" x2="948.0" y2="860.0" stroke="#111" stroke-width="1.00" />
<g stroke="#1848d8" stroke-width="1.1" stroke-dasharray="7 4">
<line x1="973.0" y1="907.0" x2="899.6" y2="887.0"/>
<line x1="973.0" y1="907.0" x2="889.0" y2="937.5"/>
<line x1="973.0" y1="907.0" x2="934.7" y2="965.6"/>
<line x1="973.0" y1="907.0" x2="989.7" y2="961.0"/>
<line x1="973.0" y1="907.0" x2="1027.0" y2="937.5"/>
<line x1="973.0" y1="907.0" x2="1041.0" y2="887.0"/>
<line x1="973.0" y1="907.0" x2="987.4" y2="865.0"/>
<line x1="973.0" y1="907.0" x2="956.0" y2="864.0"/>
</g>
<polygon points="915.7,824.7 942.8,839.6 942.8,869.4 915.7,854.3" fill="url(#gGrayL)" stroke="#000" stroke-width="1.59" stroke-linejoin="round" />
<polygon points="942.8,839.6 955.4,831.8 955.4,862.3 942.8,869.4" fill="url(#gGrayR)" stroke="#000" stroke-width="1.59" stroke-linejoin="round" />
<polygon points="915.7,824.7 928.9,816.4 955.4,831.8 942.8,839.6" fill="url(#gGrayTop)" stroke="#000" stroke-width="1.59" stroke-linejoin="round" />
<g transform="matrix(1,0.565,0,1,932.3,846.9) scale(0.700)">
<line x1="-8.4" y1="9.6" x2="-19" y2="21.3" stroke="#3c6cb4" stroke-width="2.6" stroke-linecap="round"/>
<line x1="-8.4" y1="9.6" x2="-19" y2="21.3" stroke="#ffffff" stroke-width="1.3" stroke-linecap="round"/>
<circle cx="0" cy="0" r="11.3" fill="#cfe0f6" stroke="#3c6cb4" stroke-width="3.4"/>
<circle cx="0" cy="0" r="11.3" fill="none" stroke="#ffffff" stroke-width="2.0"/>
<rect x="-4.6" y="-8" width="9.2" height="15" fill="#d6e8fb" stroke="#f4f9ff" stroke-width="1"/>
</g>
<path d="M842.7,858.6 Q842.7,854.3 846.4,852.0 L853.8,847.3 Q857.4,845.0 861.1,847.2 L882.4,860.0 Q886.0,862.2 886.0,866.5 L886.0,874.1 Q886.0,878.4 882.4,880.7 L874.6,885.6 Q871.0,888.0 867.3,885.9 L846.5,874.3 Q842.7,872.2 842.7,867.9 Z" fill="url(#gGrayTop)" stroke="#000" stroke-width="1.70" stroke-linejoin="round" />
<polygon points="843.8,856.1 870.3,870.1 870.3,885.8 843.8,870.8" fill="#e9e9e9" stroke="#222" stroke-width="0.90" stroke-linejoin="round" />
<polygon points="871.7,870.1 885.0,864.3 885.0,876.6 871.7,885.8" fill="url(#gGrayR)" stroke="none" stroke-width="0.00" stroke-linejoin="round" />
<polygon points="845.2,859.3 853.5,864.0 853.5,874.4 845.2,869.7" fill="#b8e018" stroke="#4c6a00" stroke-width="0.80" stroke-linejoin="round" />
<polygon points="857.8,866.1 867.8,871.9 867.8,883.3 857.8,877.6" fill="#dcdcdc" stroke="#111" stroke-width="1.00" stroke-linejoin="round" />
<circle cx="860.6" cy="870.8" r="1.6" fill="#eee" stroke="#111" stroke-width="0.8"/>
<circle cx="864.9" cy="873.1" r="1.6" fill="#eee" stroke="#111" stroke-width="0.8"/>
<line x1="859.2" y1="875.1" x2="866.4" y2="879.0" stroke="#fff" stroke-width="1.07" />
<path d="M981.5,835.6 V853.2 A22.3,13.7 0 0 0 1026.1,853.2 V835.6 Z" fill="url(#gCyl)" stroke="#000" stroke-width="1.72" stroke-linejoin="round" />
<ellipse cx="1003.8" cy="835.6" rx="22.3" ry="13.7" fill="#f6f6f6" stroke="#000" stroke-width="1.55"/>
<line x1="988.0" y1="827.2" x2="999.4" y2="833.2" stroke="#7a0c0c" stroke-width="2.44" />
<line x1="988.0" y1="827.2" x2="999.4" y2="833.2" stroke="#dc1c1c" stroke-width="1.70" />
<polygon points="1003.5,829.2 993.2,836.1 1003.2,835.7" fill="#dc1c1c" stroke="#7a0c0c" stroke-width="0.44" stroke-linejoin="round" />
<line x1="1004.5" y1="835.2" x2="1014.9" y2="829.5" stroke="#7a0c0c" stroke-width="2.44" />
<line x1="1004.5" y1="835.2" x2="1014.9" y2="829.5" stroke="#dc1c1c" stroke-width="1.70" />
<polygon points="1019.3,827.2 1008.0,827.5 1019.3,833.2" fill="#dc1c1c" stroke="#7a0c0c" stroke-width="0.44" stroke-linejoin="round" />
<line x1="1003.1" y1="836.2" x2="992.7" y2="842.9" stroke="#7a0c0c" stroke-width="2.44" />
<line x1="1003.1" y1="836.2" x2="992.7" y2="842.9" stroke="#dc1c1c" stroke-width="1.70" />
<polygon points="988.6,845.4 988.8,838.3 998.8,845.1" fill="#dc1c1c" stroke="#7a0c0c" stroke-width="0.44" stroke-linejoin="round" />
<line x1="1019.6" y1="845.1" x2="1008.2" y2="838.6" stroke="#7a0c0c" stroke-width="2.44" />
<line x1="1019.6" y1="845.1" x2="1008.2" y2="838.6" stroke="#dc1c1c" stroke-width="1.70" />
<polygon points="1003.8,836.1 1014.8,836.1 1003.5,842.2" fill="#dc1c1c" stroke="#7a0c0c" stroke-width="0.44" stroke-linejoin="round" />
<polygon points="1046.3,872.0 1075.2,888.5 1075.2,906.2 1046.3,889.2" fill="url(#gGrayL)" stroke="none" stroke-width="0.00" stroke-linejoin="round" />
<polygon points="1075.2,888.5 1104.9,871.7 1104.9,889.2 1075.2,906.2" fill="url(#gGrayR)" stroke="none" stroke-width="0.00" stroke-linejoin="round" />
<polygon points="1046.3,872.0 1075.2,855.0 1104.9,871.7 1075.2,888.5" fill="#f3f3f3" stroke="none" stroke-width="0.00" stroke-linejoin="round" />
<line x1="1075.2" y1="888.5" x2="1104.9" y2="871.7" stroke="#ffffff" stroke-width="1.04" />
<line x1="1046.3" y1="872.0" x2="1075.2" y2="888.5" stroke="#111" stroke-width="0.74" />
<line x1="1075.2" y1="888.5" x2="1075.2" y2="906.2" stroke="#111" stroke-width="0.74" />
<polygon points="1046.3,872.0 1075.2,855.0 1104.9,871.7 1104.9,889.2 1075.2,906.2 1046.3,889.2" fill="none" stroke="#000" stroke-width="1.81" stroke-linejoin="round" />
<polygon points="1085.0,865.8 1076.6,862.4 1077.5,860.3 1070.8,861.1 1075.0,866.5 1075.9,864.3 1084.2,867.7" fill="#dc1c1c" stroke="#7a0c0c" stroke-width="0.44" stroke-linejoin="round" />
<polygon points="1073.8,872.6 1065.2,869.2 1066.0,867.0 1059.3,868.0 1063.6,873.2 1064.4,871.0 1073.1,874.4" fill="#dc1c1c" stroke="#7a0c0c" stroke-width="0.44" stroke-linejoin="round" />
<polygon points="1077.4,871.2 1085.9,874.8 1085.0,876.9 1091.7,876.2 1087.5,870.8 1086.6,872.9 1078.2,869.4" fill="#dc1c1c" stroke="#7a0c0c" stroke-width="0.44" stroke-linejoin="round" />
<polygon points="1065.6,878.3 1074.0,881.9 1073.1,884.0 1079.9,883.3 1075.7,877.9 1074.8,880.0 1066.4,876.4" fill="#dc1c1c" stroke="#7a0c0c" stroke-width="0.44" stroke-linejoin="round" />
<path d="M843.9,930.7 L858.3,938.8 L860.1,972.3 L849.4,967.6 Q843.9,965.1 843.9,959.0 Z" fill="url(#gSrvL)" stroke="none" stroke-width="0.00" stroke-linejoin="round" />
<polygon points="858.3,938.8 883.1,925.1 883.1,959.0 860.1,972.3" fill="url(#gSrvR)" stroke="none" stroke-width="0.00" stroke-linejoin="round" />
<polygon points="843.9,930.7 864.6,918.8 871.7,918.9 883.1,925.1 858.3,938.8" fill="url(#gSrvTop)" stroke="none" stroke-width="0.00" stroke-linejoin="round" />
<line x1="858.3" y1="939.8" x2="860.1" y2="970.3" stroke="#fffdf6" stroke-width="1.15" opacity="0.9"/>
<path d="M845.4,931.5 L858.3,938.8 L881.6,925.7" fill="none" stroke="#fffdf8" stroke-width="1.08" stroke-linejoin="round" opacity="0.85"/>
<path d="M843.9,930.7 L864.6,918.8 L871.7,918.9 L883.1,925.1 L883.1,959.0 L860.1,972.3 L849.4,967.6 Q843.9,965.1 843.9,959.0 Z" fill="none" stroke="#000" stroke-width="1.70" stroke-linejoin="round" />
<path d="M846.8,940.9 L856.7,943.1" fill="none" stroke="#0a0a0a" stroke-width="1.30" stroke-linejoin="round" stroke-linecap="round"/>
<path d="M847.2,943.1 L856.7,946.1 L856.7,948.9" fill="none" stroke="#0a0a0a" stroke-width="1.58" stroke-linejoin="round" stroke-linecap="round"/>
<circle cx="851.2" cy="953.4" r="1.2" fill="#9aa890" stroke="#1a2a1a" stroke-width="0.8"/>
<line x1="846.5" y1="959.1" x2="856.8" y2="964.4" stroke="#111" stroke-width="0.79" />
<line x1="846.5" y1="961.6" x2="856.8" y2="966.8" stroke="#111" stroke-width="0.79" />
<line x1="846.5" y1="964.0" x2="856.8" y2="969.3" stroke="#111" stroke-width="0.79" />
<path d="M863.7,957.5 V968.3 A6.1,2.9 0 0 0 875.9,968.3 V957.5 Z" fill="url(#gDb)" stroke="#000" stroke-width="1.08" stroke-linejoin="round" />
<ellipse cx="869.8" cy="957.5" rx="6.1" ry="2.9" fill="#b8d2ee" stroke="#000" stroke-width="1.1"/>
<polygon points="901.0,973.1 929.3,988.6 929.3,1019.7 901.0,1004.0" fill="url(#gYelL)" stroke="#000" stroke-width="1.62" stroke-linejoin="round" />
<polygon points="929.3,988.6 942.5,980.5 942.5,1012.3 929.3,1019.7" fill="url(#gYelR)" stroke="#000" stroke-width="1.62" stroke-linejoin="round" />
<polygon points="901.0,973.1 914.8,964.4 942.5,980.5 929.3,988.6" fill="url(#gYelTop)" stroke="#000" stroke-width="1.62" stroke-linejoin="round" />
<g transform="matrix(1,0.565,0,1,918.4,996.2) scale(0.730)">
<line x1="-8.4" y1="9.6" x2="-19" y2="21.3" stroke="#1c1c08" stroke-width="2.6" stroke-linecap="round"/>
<line x1="-8.4" y1="9.6" x2="-19" y2="21.3" stroke="#fdf8cc" stroke-width="1.3" stroke-linecap="round"/>
<circle cx="0" cy="0" r="11.3" fill="#b4d2d2" stroke="#1c1c08" stroke-width="3.4"/>
<circle cx="0" cy="0" r="11.3" fill="none" stroke="#fdf8cc" stroke-width="2.0"/>
<rect x="-4.6" y="-8" width="9.2" height="15" fill="#d4e46c" stroke="#f6fbe0" stroke-width="1"/>
</g>
<polygon points="966.1,964.8 993.7,980.2 993.7,1018.9 966.1,1002.4" fill="url(#gFwL)" stroke="#000" stroke-width="1.70" stroke-linejoin="round" />
<polygon points="993.7,980.2 1003.3,974.8 1003.3,1013.4 993.7,1018.9" fill="url(#gFwR)" stroke="#000" stroke-width="1.70" stroke-linejoin="round" />
<polygon points="966.1,964.8 975.7,959.7 1003.3,974.8 993.7,980.2" fill="#f8a868" stroke="#000" stroke-width="1.70" stroke-linejoin="round" />
<g stroke="#fbd2a6" stroke-width="0.77">
<line x1="966.9" y1="971.1" x2="992.9" y2="986.5"/>
<line x1="966.9" y1="977.3" x2="992.9" y2="992.7"/>
<line x1="966.9" y1="983.6" x2="992.9" y2="999.0"/>
<line x1="966.9" y1="989.9" x2="992.9" y2="1005.3"/>
<line x1="966.9" y1="996.1" x2="992.9" y2="1011.5"/>
<line x1="975.2" y1="969.9" x2="975.2" y2="976.2"/>
<line x1="987.6" y1="976.8" x2="987.6" y2="983.1"/>
<line x1="969.4" y1="972.9" x2="969.4" y2="979.2"/>
<line x1="981.6" y1="979.7" x2="981.6" y2="986.0"/>
<line x1="975.2" y1="982.4" x2="975.2" y2="988.7"/>
<line x1="987.6" y1="989.4" x2="987.6" y2="995.6"/>
<line x1="969.4" y1="985.5" x2="969.4" y2="991.7"/>
<line x1="981.6" y1="992.2" x2="981.6" y2="998.5"/>
<line x1="975.2" y1="995.0" x2="975.2" y2="1001.2"/>
<line x1="987.6" y1="1001.9" x2="987.6" y2="1008.1"/>
<line x1="969.4" y1="998.0" x2="969.4" y2="1004.2"/>
<line x1="981.6" y1="1004.8" x2="981.6" y2="1011.0"/>
<line x1="994.5" y1="986.5" x2="1002.5" y2="981.1" opacity="0.7"/>
<line x1="994.5" y1="992.7" x2="1002.5" y2="987.4" opacity="0.7"/>
<line x1="994.5" y1="999.0" x2="1002.5" y2="993.6" opacity="0.7"/>
<line x1="994.5" y1="1005.3" x2="1002.5" y2="999.9" opacity="0.7"/>
<line x1="994.5" y1="1011.5" x2="1002.5" y2="1006.1" opacity="0.7"/>
</g>
<path d="M1025.9,946.2 L1042.1,955.3 L1044.1,993.0 L1032.1,987.8 Q1025.9,984.9 1025.9,978.0 Z" fill="url(#gSrvL)" stroke="none" stroke-width="0.00" stroke-linejoin="round" />
<polygon points="1042.1,955.3 1070.0,939.9 1070.0,978.0 1044.1,993.0" fill="url(#gSrvR)" stroke="none" stroke-width="0.00" stroke-linejoin="round" />
<polygon points="1025.9,946.2 1049.2,932.8 1057.2,933.0 1070.0,939.9 1042.1,955.3" fill="url(#gSrvTop)" stroke="none" stroke-width="0.00" stroke-linejoin="round" />
<line x1="1042.1" y1="956.3" x2="1044.1" y2="991.0" stroke="#fffdf6" stroke-width="1.30" opacity="0.9"/>
<path d="M1027.4,947.0 L1042.1,955.3 L1068.5,940.5" fill="none" stroke="#fffdf8" stroke-width="1.22" stroke-linejoin="round" opacity="0.85"/>
<path d="M1025.9,946.2 L1049.2,932.8 L1057.2,933.0 L1070.0,939.9 L1070.0,978.0 L1044.1,993.0 L1032.1,987.8 Q1025.9,984.9 1025.9,978.0 Z" fill="none" stroke="#000" stroke-width="1.80" stroke-linejoin="round" />
<path d="M1029.1,957.7 L1040.3,960.1" fill="none" stroke="#0a0a0a" stroke-width="1.46" stroke-linejoin="round" stroke-linecap="round"/>
<path d="M1029.6,960.1 L1040.3,963.5 L1040.3,966.6" fill="none" stroke="#0a0a0a" stroke-width="1.78" stroke-linejoin="round" stroke-linecap="round"/>
<circle cx="1034.1" cy="971.7" r="1.4" fill="#9aa890" stroke="#1a2a1a" stroke-width="0.9"/>
<line x1="1028.8" y1="978.2" x2="1040.4" y2="984.0" stroke="#111" stroke-width="0.89" />
<line x1="1028.8" y1="980.9" x2="1040.4" y2="986.8" stroke="#111" stroke-width="0.89" />
<line x1="1028.8" y1="983.7" x2="1040.4" y2="989.6" stroke="#111" stroke-width="0.89" />
<polygon points="1051.0,976.5 1069.5,987.2 1069.5,998.7 1051.0,988.0" fill="#7cc89a" stroke="#0a2a18" stroke-width="1.18" stroke-linejoin="round" />
<polygon points="1052.8,979.5 1067.7,988.0 1067.7,995.7 1052.8,987.2" fill="#a8e0bc" stroke="none" stroke-width="0.00" stroke-linejoin="round" />
<ellipse cx="1060.2" cy="987.6" rx="3.1" ry="3.7" fill="#8fd2aa" stroke="#3f8a5c" stroke-width="0.6" transform="rotate(30 1060.2 987.6)"/>
<path d="M951.4,884.4 L968.0,893.8 L970.1,932.4 L957.8,927.0 Q951.4,924.1 951.4,917.0 Z" fill="url(#gSrvL)" stroke="none" stroke-width="0.00" stroke-linejoin="round" />
<polygon points="968.0,893.8 996.6,878.0 996.6,917.0 970.1,932.4" fill="url(#gSrvR)" stroke="none" stroke-width="0.00" stroke-linejoin="round" />
<polygon points="951.4,884.4 975.3,870.7 983.5,870.9 996.6,878.0 968.0,893.8" fill="url(#gSrvTop)" stroke="none" stroke-width="0.00" stroke-linejoin="round" />
<line x1="968.0" y1="894.8" x2="970.1" y2="930.4" stroke="#fffdf6" stroke-width="1.33" opacity="0.9"/>
<path d="M952.9,885.2 L968.0,893.8 L995.1,878.6" fill="none" stroke="#fffdf8" stroke-width="1.24" stroke-linejoin="round" opacity="0.85"/>
<path d="M951.4,884.4 L975.3,870.7 L983.5,870.9 L996.6,878.0 L996.6,917.0 L970.1,932.4 L957.8,927.0 Q951.4,924.1 951.4,917.0 Z" fill="none" stroke="#000" stroke-width="1.82" stroke-linejoin="round" />
<path d="M954.7,896.2 L966.2,898.7" fill="none" stroke="#0a0a0a" stroke-width="1.49" stroke-linejoin="round" stroke-linecap="round"/>
<path d="M955.2,898.7 L966.2,902.2 L966.2,905.4" fill="none" stroke="#0a0a0a" stroke-width="1.83" stroke-linejoin="round" stroke-linecap="round"/>
<circle cx="959.9" cy="910.6" r="1.4" fill="#9aa890" stroke="#1a2a1a" stroke-width="0.9"/>
<line x1="954.4" y1="917.2" x2="966.3" y2="923.2" stroke="#111" stroke-width="0.91" />
<line x1="954.4" y1="920.0" x2="966.3" y2="926.0" stroke="#111" stroke-width="0.91" />
<line x1="954.4" y1="922.9" x2="966.3" y2="928.9" stroke="#111" stroke-width="0.91" />
<circle cx="984.0" cy="922.5" r="7.0" fill="url(#gGlobe)" stroke="#080840" stroke-width="1.2"/>
<path d="M980.1,918.6 q3.5,-3.1 6.6,-0.4 q-0.4,3.5 -3.1,4.2 q0.7,3.5 -1.1,5.6 q-3.5,-2.1 -2.4,-7.4 Z" fill="#22c43a" stroke="none" stroke-width="0.00" stroke-linejoin="round" />
<rect x="988.5" y="927.5" width="6.5" height="6.8" fill="#fff59a" stroke="#111" stroke-width="1.1"/>
<rect x="995.7" y="927.5" width="6.5" height="6.8" fill="#fff59a" stroke="#111" stroke-width="1.1"/>
<polygon points="989.2,926.1 995.0,921.7 997.9,923.9 994.3,926.8" fill="#fdf6b0" stroke="#111" stroke-width="0.86" stroke-linejoin="round" />
<g fill="#22ee22">
<ellipse cx="809.4" cy="784.5" rx="11.4" ry="14.4"/>
<ellipse cx="799.5" cy="801.3" rx="13.9" ry="6.9"/>
</g>
<path d="M744.3,733.9 L769.0,747.8 L772.0,805.1 L753.8,797.1 Q744.3,792.8 744.3,782.3 Z" fill="#10ec10" stroke="#003c00" stroke-width="1.20" stroke-linejoin="round" />
<polygon points="769.0,747.8 811.5,724.4 811.5,782.3 772.0,805.1" fill="#12f012" stroke="#003c00" stroke-width="1.20" stroke-linejoin="round" />
<polygon points="744.3,733.9 785.0,710.2 786.2,710.2 811.5,724.4 769.0,747.8" fill="#14f014" stroke="#003c00" stroke-width="1.20" stroke-linejoin="round" />
<path d="M747.3,744.8 Q756.6,747.0 767.0,757.8" fill="none" stroke="#0a6a0a" stroke-width="1.23" stroke-linejoin="round" stroke-linecap="round"/>
<polygon points="747.8,748.8 766.5,760.6 766.5,765.5 747.8,753.1" fill="#0a6a0a" stroke="none" stroke-width="0.00" stroke-linejoin="round" />
<circle cx="754.7" cy="770.5" r="2.3" fill="#0c9c0c" stroke="#064" stroke-width="1.0"/>
<line x1="746.8" y1="775.9" x2="766.0" y2="791.7" stroke="#0a7a0a" stroke-width="1.60" />
<line x1="746.8" y1="781.1" x2="766.0" y2="796.9" stroke="#0a7a0a" stroke-width="1.60" />
<line x1="746.8" y1="786.3" x2="766.0" y2="802.1" stroke="#0a7a0a" stroke-width="1.60" />
<g stroke="#003c00" stroke-width="1.10" stroke-linejoin="round" fill="#14f014">
<polygon points="772.4,806.5 780.2,801.3 792.4,808.3 784.6,813.5"/>
<polygon points="781.1,796.9 793.3,790.8 806.4,797.8 806.4,802.2 794.2,809.1 781.1,801.3"/>
<polygon points="784.6,778.6 788.9,776.0 793.3,777.8 795.9,776.0 801.1,779.5 801.1,795.2 795.0,799.6 784.6,794.3"/>
<polygon points="786.3,781.3 794.2,785.6 794.2,796.1 786.3,791.7"/>
<line x1="794.2" y1="803.9" x2="799.4" y2="801.3" stroke-width="1.7"/>
</g>
<g fill="#22ee22">
<ellipse cx="1146.4" cy="737.4" rx="11.5" ry="14.5"/>
<ellipse cx="1136.4" cy="754.4" rx="14.0" ry="7.0"/>
</g>
<path d="M1080.7,686.3 L1105.6,700.4 L1108.7,758.3 L1090.3,750.2 Q1080.7,745.8 1080.7,735.2 Z" fill="#10ec10" stroke="#003c00" stroke-width="1.20" stroke-linejoin="round" />
<polygon points="1105.6,700.4 1148.5,676.7 1148.5,735.2 1108.7,758.3" fill="#12f012" stroke="#003c00" stroke-width="1.20" stroke-linejoin="round" />
<polygon points="1080.7,686.3 1121.8,662.4 1123.0,662.4 1148.5,676.7 1105.6,700.4" fill="#14f014" stroke="#003c00" stroke-width="1.20" stroke-linejoin="round" />
<path d="M1083.7,697.3 Q1093.1,699.6 1103.6,710.5" fill="none" stroke="#0a6a0a" stroke-width="1.25" stroke-linejoin="round" stroke-linecap="round"/>
<polygon points="1084.2,701.3 1103.1,713.3 1103.1,718.3 1084.2,705.7" fill="#0a6a0a" stroke="none" stroke-width="0.00" stroke-linejoin="round" />
<circle cx="1091.2" cy="723.3" r="2.4" fill="#0c9c0c" stroke="#064" stroke-width="1.0"/>
<line x1="1083.2" y1="728.8" x2="1102.6" y2="744.7" stroke="#0a7a0a" stroke-width="1.62" />
<line x1="1083.2" y1="734.0" x2="1102.6" y2="750.0" stroke="#0a7a0a" stroke-width="1.62" />
<line x1="1083.2" y1="739.3" x2="1102.6" y2="755.2" stroke="#0a7a0a" stroke-width="1.62" />
<g stroke="#003c00" stroke-width="1.10" stroke-linejoin="round" fill="#14f014">
<polygon points="1109.0,759.7 1117.0,754.4 1129.3,761.5 1121.4,766.7"/>
<polygon points="1117.8,750.0 1130.2,743.9 1143.4,750.9 1143.4,755.3 1131.0,762.3 1117.8,754.4"/>
<polygon points="1121.4,731.5 1125.8,728.9 1130.2,730.7 1132.8,728.9 1138.1,732.4 1138.1,748.3 1131.9,752.7 1121.4,747.4"/>
<polygon points="1123.1,734.2 1131.0,738.6 1131.0,749.1 1123.1,744.7"/>
<line x1="1131.0" y1="757.1" x2="1136.3" y2="754.4" stroke-width="1.8"/>
</g>
<text x="577.4" y="801.0" font-size="18.0" fill="#262626" font-weight="400" text-anchor="start" >日志采集器</text>
<path d="M473.2,934.6 A15.3,15.3 0 0 1 469.9,910.2 A11.3,11.3 0 0 1 476.3,900.9 A15.4,15.4 0 0 1 481.2,886.3 A18.7,18.7 0 0 1 510.8,880.6 A14.8,14.8 0 0 1 538.8,872.7 A11.1,11.1 0 0 1 555.8,858.2 A14.4,14.4 0 0 1 575.1,851.1 A12.6,12.6 0 0 1 599.0,855.7 A17.4,17.4 0 0 1 616.1,866.9 A13.6,13.6 0 0 1 618.5,888.7 A14.9,14.9 0 0 1 620.7,912.7 A16.0,16.0 0 0 1 615.0,937.9 A20.8,20.8 0 0 1 583.3,948.8 A14.2,14.2 0 0 1 562.5,958.2 A10.3,10.3 0 0 1 546.2,961.4 A18.3,18.3 0 0 1 514.8,958.2 A10.3,10.3 0 0 1 499.3,952.2 A14.1,14.1 0 0 1 480.6,939.3 A5.4,5.4 0 0 1 473.2,934.6Z" fill="url(#gCloud2)" stroke="#0a1626" stroke-width="1.40" stroke-linejoin="round" />
<g clip-path="url(#cl5)" fill="#3f7fc4" opacity="0.33">
<ellipse cx="514.5" cy="909.0" rx="41.6" ry="12.7"/>
<ellipse cx="498.5" cy="916.7" rx="25.6" ry="8.9"/>
<ellipse cx="572.1" cy="906.5" rx="25.6" ry="11.4"/>
<ellipse cx="591.3" cy="912.9" rx="22.4" ry="8.9"/>
<ellipse cx="549.7" cy="931.9" rx="35.2" ry="8.9"/>
<ellipse cx="488.9" cy="893.8" rx="16.0" ry="15.2"/>
</g>
<line x1="528.0" y1="888.7" x2="566.1" y2="831.9" stroke="#111" stroke-width="1.00" />
<line x1="528.0" y1="888.7" x2="590.3" y2="894.5" stroke="#111" stroke-width="1.00" />
<line x1="528.0" y1="888.7" x2="573.4" y2="956.8" stroke="#111" stroke-width="1.00" />
<path d="M555.4,809.4 L571.2,818.4 L573.2,855.1 L561.5,850.0 Q555.4,847.2 555.4,840.5 Z" fill="url(#gSrvL)" stroke="none" stroke-width="0.00" stroke-linejoin="round" />
<polygon points="571.2,818.4 598.5,803.4 598.5,840.5 573.2,855.1" fill="url(#gSrvR)" stroke="none" stroke-width="0.00" stroke-linejoin="round" />
<polygon points="555.4,809.4 578.2,796.4 586.0,796.6 598.5,803.4 571.2,818.4" fill="url(#gSrvTop)" stroke="none" stroke-width="0.00" stroke-linejoin="round" />
<line x1="571.2" y1="819.4" x2="573.2" y2="853.1" stroke="#fffdf6" stroke-width="1.26" opacity="0.9"/>
<path d="M556.9,810.2 L571.2,818.4 L597.0,804.0" fill="none" stroke="#fffdf8" stroke-width="1.19" stroke-linejoin="round" opacity="0.85"/>
<path d="M555.4,809.4 L578.2,796.4 L586.0,796.6 L598.5,803.4 L598.5,840.5 L573.2,855.1 L561.5,850.0 Q555.4,847.2 555.4,840.5 Z" fill="none" stroke="#000" stroke-width="1.78" stroke-linejoin="round" />
<path d="M558.6,820.7 L569.5,823.1" fill="none" stroke="#0a0a0a" stroke-width="1.42" stroke-linejoin="round" stroke-linecap="round"/>
<path d="M559.1,823.0 L569.5,826.4 L569.5,829.4" fill="none" stroke="#0a0a0a" stroke-width="1.74" stroke-linejoin="round" stroke-linecap="round"/>
<circle cx="563.5" cy="834.4" r="1.3" fill="#9aa890" stroke="#1a2a1a" stroke-width="0.9"/>
<line x1="558.3" y1="840.7" x2="569.7" y2="846.4" stroke="#111" stroke-width="0.87" />
<line x1="558.3" y1="843.4" x2="569.7" y2="849.1" stroke="#111" stroke-width="0.87" />
<line x1="558.3" y1="846.0" x2="569.7" y2="851.8" stroke="#111" stroke-width="0.87" />
<polygon points="581.9,841.4 591.7,847.1 591.7,862.3 581.9,856.7" fill="#f6efdd" stroke="#000" stroke-width="1.72" stroke-linejoin="round" />
<polygon points="591.7,847.1 595.4,845.1 595.4,860.3 591.7,862.3" fill="#c8b898" stroke="#000" stroke-width="1.48" stroke-linejoin="round" />
<path d="M499.1,872.1 L514.5,880.8 L516.4,916.6 L505.0,911.6 Q499.1,908.9 499.1,902.4 Z" fill="url(#gSrvL)" stroke="none" stroke-width="0.00" stroke-linejoin="round" />
<polygon points="514.5,880.8 541.1,866.2 541.1,902.4 516.4,916.6" fill="url(#gSrvR)" stroke="none" stroke-width="0.00" stroke-linejoin="round" />
<polygon points="499.1,872.1 521.3,859.4 528.9,859.6 541.1,866.2 514.5,880.8" fill="url(#gSrvTop)" stroke="none" stroke-width="0.00" stroke-linejoin="round" />
<line x1="514.5" y1="881.8" x2="516.4" y2="914.6" stroke="#fffdf6" stroke-width="1.23" opacity="0.9"/>
<path d="M500.6,872.9 L514.5,880.8 L539.6,866.8" fill="none" stroke="#fffdf8" stroke-width="1.16" stroke-linejoin="round" opacity="0.85"/>
<path d="M499.1,872.1 L521.3,859.4 L528.9,859.6 L541.1,866.2 L541.1,902.4 L516.4,916.6 L505.0,911.6 Q499.1,908.9 499.1,902.4 Z" fill="none" stroke="#000" stroke-width="1.75" stroke-linejoin="round" />
<path d="M502.2,883.1 L512.8,885.4" fill="none" stroke="#0a0a0a" stroke-width="1.39" stroke-linejoin="round" stroke-linecap="round"/>
<path d="M502.6,885.3 L512.8,888.6 L512.8,891.6" fill="none" stroke="#0a0a0a" stroke-width="1.69" stroke-linejoin="round" stroke-linecap="round"/>
<circle cx="507.0" cy="896.4" r="1.3" fill="#9aa890" stroke="#1a2a1a" stroke-width="0.8"/>
<line x1="501.9" y1="902.5" x2="513.0" y2="908.1" stroke="#111" stroke-width="0.85" />
<line x1="501.9" y1="905.2" x2="513.0" y2="910.7" stroke="#111" stroke-width="0.85" />
<line x1="501.9" y1="907.8" x2="513.0" y2="913.4" stroke="#111" stroke-width="0.85" />
<circle cx="529.4" cy="911.8" r="9.0" fill="#dfe6fb" stroke="#1a1f6a" stroke-width="1.6"/>
<ellipse cx="529.4" cy="911.8" rx="4.0" ry="9.0" fill="none" stroke="#3a44a8" stroke-width="1"/>
<line x1="520.4" y1="911.8" x2="538.4" y2="911.8" stroke="#3a44a8" stroke-width="1.00" />
<path d="M522.2,907.3 Q529.4,910.0 536.6,907.3" fill="none" stroke="#3a44a8" stroke-width="0.90" stroke-linejoin="round" />
<path d="M522.2,916.3 Q529.4,913.6 536.6,916.3" fill="none" stroke="#3a44a8" stroke-width="0.90" stroke-linejoin="round" />
<path d="M579.8,872.3 L595.4,881.1 L597.3,917.4 L585.8,912.3 Q579.8,909.6 579.8,902.9 Z" fill="url(#gSrvL)" stroke="none" stroke-width="0.00" stroke-linejoin="round" />
<polygon points="595.4,881.1 622.3,866.3 622.3,902.9 597.3,917.4" fill="url(#gSrvR)" stroke="none" stroke-width="0.00" stroke-linejoin="round" />
<polygon points="579.8,872.3 602.2,859.4 610.0,859.6 622.3,866.3 595.4,881.1" fill="url(#gSrvTop)" stroke="none" stroke-width="0.00" stroke-linejoin="round" />
<line x1="595.4" y1="882.1" x2="597.3" y2="915.4" stroke="#fffdf6" stroke-width="1.25" opacity="0.9"/>
<path d="M581.3,873.1 L595.4,881.1 L620.8,866.9" fill="none" stroke="#fffdf8" stroke-width="1.17" stroke-linejoin="round" opacity="0.85"/>
<path d="M579.8,872.3 L602.2,859.4 L610.0,859.6 L622.3,866.3 L622.3,902.9 L597.3,917.4 L585.8,912.3 Q579.8,909.6 579.8,902.9 Z" fill="none" stroke="#000" stroke-width="1.77" stroke-linejoin="round" />
<path d="M582.9,883.4 L593.7,885.7" fill="none" stroke="#0a0a0a" stroke-width="1.40" stroke-linejoin="round" stroke-linecap="round"/>
<path d="M583.4,885.7 L593.7,889.0 L593.7,892.0" fill="none" stroke="#0a0a0a" stroke-width="1.72" stroke-linejoin="round" stroke-linecap="round"/>
<circle cx="587.7" cy="896.9" r="1.3" fill="#9aa890" stroke="#1a2a1a" stroke-width="0.9"/>
<line x1="582.6" y1="903.1" x2="593.8" y2="908.8" stroke="#111" stroke-width="0.86" />
<line x1="582.6" y1="905.8" x2="593.8" y2="911.4" stroke="#111" stroke-width="0.86" />
<line x1="582.6" y1="908.4" x2="593.8" y2="914.1" stroke="#111" stroke-width="0.86" />
<polygon points="601.4,905.8 611.2,911.5 611.2,926.7 601.4,921.1" fill="#f6c8a8" stroke="#000" stroke-width="1.72" stroke-linejoin="round" />
<polygon points="611.2,911.5 614.9,909.5 614.9,924.7 611.2,926.7" fill="#e09060" stroke="#000" stroke-width="1.48" stroke-linejoin="round" />
<path d="M562.6,934.0 L578.6,943.0 L580.6,980.2 L568.8,975.1 Q562.6,972.2 562.6,965.4 Z" fill="url(#gSrvL)" stroke="none" stroke-width="0.00" stroke-linejoin="round" />
<polygon points="578.6,943.0 606.2,927.8 606.2,965.4 580.6,980.2" fill="url(#gSrvR)" stroke="none" stroke-width="0.00" stroke-linejoin="round" />
<polygon points="562.6,934.0 585.6,920.8 593.6,921.0 606.2,927.8 578.6,943.0" fill="url(#gSrvTop)" stroke="none" stroke-width="0.00" stroke-linejoin="round" />
<line x1="578.6" y1="944.0" x2="580.6" y2="978.2" stroke="#fffdf6" stroke-width="1.28" opacity="0.9"/>
<path d="M564.1,934.8 L578.6,943.0 L604.7,928.4" fill="none" stroke="#fffdf8" stroke-width="1.20" stroke-linejoin="round" opacity="0.85"/>
<path d="M562.6,934.0 L585.6,920.8 L593.6,921.0 L606.2,927.8 L606.2,965.4 L580.6,980.2 L568.8,975.1 Q562.6,972.2 562.6,965.4 Z" fill="none" stroke="#000" stroke-width="1.79" stroke-linejoin="round" />
<path d="M565.8,945.4 L576.8,947.8" fill="none" stroke="#0a0a0a" stroke-width="1.44" stroke-linejoin="round" stroke-linecap="round"/>
<path d="M566.3,947.8 L576.8,951.2 L576.8,954.2" fill="none" stroke="#0a0a0a" stroke-width="1.76" stroke-linejoin="round" stroke-linecap="round"/>
<circle cx="570.8" cy="959.3" r="1.4" fill="#9aa890" stroke="#1a2a1a" stroke-width="0.9"/>
<line x1="565.5" y1="965.6" x2="577.0" y2="971.4" stroke="#111" stroke-width="0.88" />
<line x1="565.5" y1="968.3" x2="577.0" y2="974.1" stroke="#111" stroke-width="0.88" />
<line x1="565.5" y1="971.1" x2="577.0" y2="976.9" stroke="#111" stroke-width="0.88" />
<polygon points="587.9,971.8 598.8,978.1 598.8,994.9 587.9,988.7" fill="#f4f4f4" stroke="#000" stroke-width="1.90" stroke-linejoin="round" />
<polygon points="598.8,978.1 602.9,975.9 602.9,992.7 598.8,994.9" fill="#c8b898" stroke="#000" stroke-width="1.63" stroke-linejoin="round" />
<circle cx="593.3" cy="984.0" r="3.8" fill="#3050d0" stroke="#102080" stroke-width="0.6"/>
<g fill="#22ee22">
<ellipse cx="651.6" cy="762.1" rx="10.8" ry="13.6"/>
<ellipse cx="642.2" cy="778.1" rx="13.2" ry="6.6"/>
</g>
<path d="M589.8,714.1 L613.2,727.3 L616.1,781.7 L598.8,774.2 Q589.8,770.0 589.8,760.1 Z" fill="#10ec10" stroke="#003c00" stroke-width="1.20" stroke-linejoin="round" />
<polygon points="613.2,727.3 653.6,705.1 653.6,760.1 616.1,781.7" fill="#12f012" stroke="#003c00" stroke-width="1.20" stroke-linejoin="round" />
<polygon points="589.8,714.1 628.4,691.6 629.6,691.6 653.6,705.1 613.2,727.3" fill="#14f014" stroke="#003c00" stroke-width="1.20" stroke-linejoin="round" />
<path d="M592.6,724.4 Q601.5,726.5 611.3,736.8" fill="none" stroke="#0a6a0a" stroke-width="1.17" stroke-linejoin="round" stroke-linecap="round"/>
<polygon points="593.1,728.2 610.9,739.4 610.9,744.1 593.1,732.3" fill="#0a6a0a" stroke="none" stroke-width="0.00" stroke-linejoin="round" />
<circle cx="599.6" cy="748.9" r="2.2" fill="#0c9c0c" stroke="#064" stroke-width="0.9"/>
<line x1="592.1" y1="754.0" x2="610.4" y2="769.0" stroke="#0a7a0a" stroke-width="1.52" />
<line x1="592.1" y1="758.9" x2="610.4" y2="773.9" stroke="#0a7a0a" stroke-width="1.52" />
<line x1="592.1" y1="763.8" x2="610.4" y2="778.8" stroke="#0a7a0a" stroke-width="1.52" />
<g stroke="#003c00" stroke-width="1.10" stroke-linejoin="round" fill="#14f014">
<polygon points="616.4,783.1 623.9,778.1 635.5,784.7 628.0,789.7"/>
<polygon points="624.7,774.0 636.3,768.2 648.7,774.8 648.7,778.9 637.1,785.5 624.7,778.1"/>
<polygon points="628.0,756.6 632.2,754.1 636.3,755.8 638.8,754.1 643.7,757.4 643.7,772.3 637.9,776.4 628.0,771.5"/>
<polygon points="629.7,759.1 637.1,763.2 637.1,773.1 629.7,769.0"/>
<line x1="637.1" y1="780.6" x2="642.1" y2="778.1" stroke-width="1.7"/>
</g>
<path d="M1277.8,790.4 A12.2,12.2 0 0 1 1274.9,771.0 A9.2,9.2 0 0 1 1280.5,763.7 A12.4,12.4 0 0 1 1284.8,752.0 A16.2,16.2 0 0 1 1310.5,747.5 A12.8,12.8 0 0 1 1334.8,741.2 A9.3,9.3 0 0 1 1349.6,729.7 A12.4,12.4 0 0 1 1366.4,724.1 A10.9,10.9 0 0 1 1387.1,727.7 A14.7,14.7 0 0 1 1402.0,736.6 A10.8,10.8 0 0 1 1404.0,754.0 A11.9,11.9 0 0 1 1406.0,773.0 A12.8,12.8 0 0 1 1401.0,793.0 A17.9,17.9 0 0 1 1373.5,801.7 A12.1,12.1 0 0 1 1355.4,809.2 A8.9,8.9 0 0 1 1341.2,811.7 A15.9,15.9 0 0 1 1314.0,809.2 A8.9,8.9 0 0 1 1300.5,804.5 A11.9,11.9 0 0 1 1284.2,794.2 A4.6,4.6 0 0 1 1277.8,790.4Z" fill="url(#gCloud2)" stroke="#0a1626" stroke-width="1.40" stroke-linejoin="round" />
<g clip-path="url(#cl6)" fill="#3f7fc4" opacity="0.33">
<ellipse cx="1313.7" cy="770.1" rx="36.1" ry="10.1"/>
<ellipse cx="1299.8" cy="776.2" rx="22.2" ry="7.1"/>
<ellipse cx="1363.7" cy="768.1" rx="22.2" ry="9.1"/>
<ellipse cx="1380.4" cy="773.1" rx="19.5" ry="7.1"/>
<ellipse cx="1344.3" cy="788.3" rx="30.6" ry="7.1"/>
<ellipse cx="1291.5" cy="758.0" rx="13.9" ry="12.1"/>
</g>
<line x1="1329.8" y1="753.6" x2="1361.6" y2="710.4" stroke="#111" stroke-width="1.00" />
<line x1="1329.8" y1="753.6" x2="1381.0" y2="760.9" stroke="#111" stroke-width="1.00" />
<line x1="1329.8" y1="753.6" x2="1371.2" y2="810.9" stroke="#111" stroke-width="1.00" />
<path d="M1351.9,689.9 L1366.3,698.0 L1368.1,731.5 L1357.4,726.8 Q1351.9,724.3 1351.9,718.2 Z" fill="url(#gSrvL)" stroke="none" stroke-width="0.00" stroke-linejoin="round" />
<polygon points="1366.3,698.0 1391.1,684.3 1391.1,718.2 1368.1,731.5" fill="url(#gSrvR)" stroke="none" stroke-width="0.00" stroke-linejoin="round" />
<polygon points="1351.9,689.9 1372.6,678.0 1379.7,678.1 1391.1,684.3 1366.3,698.0" fill="url(#gSrvTop)" stroke="none" stroke-width="0.00" stroke-linejoin="round" />
<line x1="1366.3" y1="699.0" x2="1368.1" y2="729.5" stroke="#fffdf6" stroke-width="1.15" opacity="0.9"/>
<path d="M1353.4,690.7 L1366.3,698.0 L1389.6,684.9" fill="none" stroke="#fffdf8" stroke-width="1.08" stroke-linejoin="round" opacity="0.85"/>
<path d="M1351.9,689.9 L1372.6,678.0 L1379.7,678.1 L1391.1,684.3 L1391.1,718.2 L1368.1,731.5 L1357.4,726.8 Q1351.9,724.3 1351.9,718.2 Z" fill="none" stroke="#000" stroke-width="1.70" stroke-linejoin="round" />
<path d="M1354.8,700.1 L1364.7,702.3" fill="none" stroke="#0a0a0a" stroke-width="1.30" stroke-linejoin="round" stroke-linecap="round"/>
<path d="M1355.2,702.3 L1364.7,705.3 L1364.7,708.1" fill="none" stroke="#0a0a0a" stroke-width="1.58" stroke-linejoin="round" stroke-linecap="round"/>
<circle cx="1359.2" cy="712.6" r="1.2" fill="#9aa890" stroke="#1a2a1a" stroke-width="0.8"/>
<line x1="1354.5" y1="718.3" x2="1364.8" y2="723.6" stroke="#111" stroke-width="0.79" />
<line x1="1354.5" y1="720.8" x2="1364.8" y2="726.0" stroke="#111" stroke-width="0.79" />
<line x1="1354.5" y1="723.2" x2="1364.8" y2="728.5" stroke="#111" stroke-width="0.79" />
<polygon points="1372.8,716.6 1382.1,721.9 1382.1,736.3 1372.8,731.0" fill="#f6efdd" stroke="#000" stroke-width="1.62" stroke-linejoin="round" />
<polygon points="1382.1,721.9 1385.6,720.1 1385.6,734.5 1382.1,736.3" fill="#c8b898" stroke="#000" stroke-width="1.39" stroke-linejoin="round" />
<path d="M1303.5,738.6 L1317.5,746.5 L1319.3,779.0 L1308.9,774.5 Q1303.5,772.0 1303.5,766.1 Z" fill="url(#gSrvL)" stroke="none" stroke-width="0.00" stroke-linejoin="round" />
<polygon points="1317.5,746.5 1341.7,733.2 1341.7,766.1 1319.3,779.0" fill="url(#gSrvR)" stroke="none" stroke-width="0.00" stroke-linejoin="round" />
<polygon points="1303.5,738.6 1323.7,727.0 1330.6,727.1 1341.7,733.2 1317.5,746.5" fill="url(#gSrvTop)" stroke="none" stroke-width="0.00" stroke-linejoin="round" />
<line x1="1317.5" y1="747.5" x2="1319.3" y2="777.0" stroke="#fffdf6" stroke-width="1.12" opacity="0.9"/>
<path d="M1305.0,739.4 L1317.5,746.5 L1340.2,733.8" fill="none" stroke="#fffdf8" stroke-width="1.05" stroke-linejoin="round" opacity="0.85"/>
<path d="M1303.5,738.6 L1323.7,727.0 L1330.6,727.1 L1341.7,733.2 L1341.7,766.1 L1319.3,779.0 L1308.9,774.5 Q1303.5,772.0 1303.5,766.1 Z" fill="none" stroke="#000" stroke-width="1.67" stroke-linejoin="round" />
<path d="M1306.3,748.5 L1316.0,750.6" fill="none" stroke="#0a0a0a" stroke-width="1.26" stroke-linejoin="round" stroke-linecap="round"/>
<path d="M1306.8,750.6 L1316.0,753.6 L1316.0,756.2" fill="none" stroke="#0a0a0a" stroke-width="1.54" stroke-linejoin="round" stroke-linecap="round"/>
<circle cx="1310.7" cy="760.6" r="1.2" fill="#9aa890" stroke="#1a2a1a" stroke-width="0.8"/>
<line x1="1306.1" y1="766.2" x2="1316.1" y2="771.3" stroke="#111" stroke-width="0.77" />
<line x1="1306.1" y1="768.6" x2="1316.1" y2="773.7" stroke="#111" stroke-width="0.77" />
<line x1="1306.1" y1="771.0" x2="1316.1" y2="776.0" stroke="#111" stroke-width="0.77" />
<circle cx="1328.0" cy="771.0" r="7.5" fill="#dfe6fb" stroke="#1a1f6a" stroke-width="1.6"/>
<ellipse cx="1328.0" cy="771.0" rx="3.4" ry="7.5" fill="none" stroke="#3a44a8" stroke-width="1"/>
<line x1="1320.5" y1="771.0" x2="1335.5" y2="771.0" stroke="#3a44a8" stroke-width="1.00" />
<path d="M1322.0,767.2 Q1328.0,769.5 1334.0,767.2" fill="none" stroke="#3a44a8" stroke-width="0.90" stroke-linejoin="round" />
<path d="M1322.0,774.8 Q1328.0,772.5 1334.0,774.8" fill="none" stroke="#3a44a8" stroke-width="0.90" stroke-linejoin="round" />
<path d="M1371.5,741.0 L1385.5,748.9 L1387.3,781.4 L1376.9,776.9 Q1371.5,774.4 1371.5,768.5 Z" fill="url(#gSrvL)" stroke="none" stroke-width="0.00" stroke-linejoin="round" />
<polygon points="1385.5,748.9 1409.7,735.6 1409.7,768.5 1387.3,781.4" fill="url(#gSrvR)" stroke="none" stroke-width="0.00" stroke-linejoin="round" />
<polygon points="1371.5,741.0 1391.7,729.4 1398.6,729.5 1409.7,735.6 1385.5,748.9" fill="url(#gSrvTop)" stroke="none" stroke-width="0.00" stroke-linejoin="round" />
<line x1="1385.5" y1="749.9" x2="1387.3" y2="779.4" stroke="#fffdf6" stroke-width="1.12" opacity="0.9"/>
<path d="M1373.0,741.8 L1385.5,748.9 L1408.2,736.2" fill="none" stroke="#fffdf8" stroke-width="1.05" stroke-linejoin="round" opacity="0.85"/>
<path d="M1371.5,741.0 L1391.7,729.4 L1398.6,729.5 L1409.7,735.6 L1409.7,768.5 L1387.3,781.4 L1376.9,776.9 Q1371.5,774.4 1371.5,768.5 Z" fill="none" stroke="#000" stroke-width="1.67" stroke-linejoin="round" />
<path d="M1374.3,750.9 L1384.0,753.0" fill="none" stroke="#0a0a0a" stroke-width="1.26" stroke-linejoin="round" stroke-linecap="round"/>
<path d="M1374.8,753.0 L1384.0,756.0 L1384.0,758.6" fill="none" stroke="#0a0a0a" stroke-width="1.54" stroke-linejoin="round" stroke-linecap="round"/>
<circle cx="1378.7" cy="763.0" r="1.2" fill="#9aa890" stroke="#1a2a1a" stroke-width="0.8"/>
<line x1="1374.1" y1="768.6" x2="1384.1" y2="773.7" stroke="#111" stroke-width="0.77" />
<line x1="1374.1" y1="771.0" x2="1384.1" y2="776.1" stroke="#111" stroke-width="0.77" />
<line x1="1374.1" y1="773.4" x2="1384.1" y2="778.4" stroke="#111" stroke-width="0.77" />
<polygon points="1391.0,765.7 1400.3,771.0 1400.3,785.4 1391.0,780.1" fill="#f6c8a8" stroke="#000" stroke-width="1.62" stroke-linejoin="round" />
<polygon points="1400.3,771.0 1403.8,769.2 1403.8,783.6 1400.3,785.4" fill="#e09060" stroke="#000" stroke-width="1.39" stroke-linejoin="round" />
<path d="M1361.5,790.4 L1375.9,798.5 L1377.7,832.0 L1367.0,827.3 Q1361.5,824.8 1361.5,818.7 Z" fill="url(#gSrvL)" stroke="none" stroke-width="0.00" stroke-linejoin="round" />
<polygon points="1375.9,798.5 1400.7,784.8 1400.7,818.7 1377.7,832.0" fill="url(#gSrvR)" stroke="none" stroke-width="0.00" stroke-linejoin="round" />
<polygon points="1361.5,790.4 1382.2,778.5 1389.3,778.6 1400.7,784.8 1375.9,798.5" fill="url(#gSrvTop)" stroke="none" stroke-width="0.00" stroke-linejoin="round" />
<line x1="1375.9" y1="799.5" x2="1377.7" y2="830.0" stroke="#fffdf6" stroke-width="1.15" opacity="0.9"/>
<path d="M1363.0,791.2 L1375.9,798.5 L1399.2,785.4" fill="none" stroke="#fffdf8" stroke-width="1.08" stroke-linejoin="round" opacity="0.85"/>
<path d="M1361.5,790.4 L1382.2,778.5 L1389.3,778.6 L1400.7,784.8 L1400.7,818.7 L1377.7,832.0 L1367.0,827.3 Q1361.5,824.8 1361.5,818.7 Z" fill="none" stroke="#000" stroke-width="1.70" stroke-linejoin="round" />
<path d="M1364.4,800.6 L1374.3,802.8" fill="none" stroke="#0a0a0a" stroke-width="1.30" stroke-linejoin="round" stroke-linecap="round"/>
<path d="M1364.8,802.8 L1374.3,805.8 L1374.3,808.6" fill="none" stroke="#0a0a0a" stroke-width="1.58" stroke-linejoin="round" stroke-linecap="round"/>
<circle cx="1368.8" cy="813.1" r="1.2" fill="#9aa890" stroke="#1a2a1a" stroke-width="0.8"/>
<line x1="1364.1" y1="818.8" x2="1374.4" y2="824.1" stroke="#111" stroke-width="0.79" />
<line x1="1364.1" y1="821.3" x2="1374.4" y2="826.5" stroke="#111" stroke-width="0.79" />
<line x1="1364.1" y1="823.7" x2="1374.4" y2="829.0" stroke="#111" stroke-width="0.79" />
<polygon points="1380.3,816.9 1389.1,822.0 1389.1,835.6 1380.3,830.5" fill="#f4f4f4" stroke="#000" stroke-width="1.54" stroke-linejoin="round" />
<polygon points="1389.1,822.0 1392.4,820.2 1392.4,833.8 1389.1,835.6" fill="#c8b898" stroke="#000" stroke-width="1.32" stroke-linejoin="round" />
<circle cx="1384.7" cy="826.8" r="3.1" fill="#3050d0" stroke="#102080" stroke-width="0.6"/>
<path d="M1285.2,971.9 A11.7,11.7 0 0 1 1282.3,953.3 A9.0,9.0 0 0 1 1287.9,946.2 A12.0,12.0 0 0 1 1292.2,935.1 A16.2,16.2 0 0 1 1317.9,930.7 A12.8,12.8 0 0 1 1342.2,924.7 A9.2,9.2 0 0 1 1357.0,913.6 A12.4,12.4 0 0 1 1373.8,908.2 A10.9,10.9 0 0 1 1394.5,911.7 A14.6,14.6 0 0 1 1409.4,920.2 A10.4,10.4 0 0 1 1411.5,936.9 A11.4,11.4 0 0 1 1413.4,955.3 A12.3,12.3 0 0 1 1408.4,974.5 A17.8,17.8 0 0 1 1380.9,982.8 A12.1,12.1 0 0 1 1362.8,990.0 A8.9,8.9 0 0 1 1348.6,992.4 A15.9,15.9 0 0 1 1321.4,990.0 A8.8,8.8 0 0 1 1307.9,985.4 A11.8,11.8 0 0 1 1291.6,975.5 A4.5,4.5 0 0 1 1285.2,971.9Z" fill="url(#gCloud2)" stroke="#0a1626" stroke-width="1.40" stroke-linejoin="round" />
<g clip-path="url(#cl7)" fill="#3f7fc4" opacity="0.33">
<ellipse cx="1321.1" cy="952.4" rx="36.1" ry="9.7"/>
<ellipse cx="1307.2" cy="958.3" rx="22.2" ry="6.8"/>
<ellipse cx="1371.1" cy="950.5" rx="22.2" ry="8.7"/>
<ellipse cx="1387.8" cy="955.4" rx="19.5" ry="6.8"/>
<ellipse cx="1351.7" cy="969.9" rx="30.6" ry="6.8"/>
<ellipse cx="1298.9" cy="940.8" rx="13.9" ry="11.6"/>
</g>
<line x1="1338.0" y1="937.5" x2="1369.2" y2="894.4" stroke="#111" stroke-width="1.00" />
<line x1="1338.0" y1="937.5" x2="1390.2" y2="944.6" stroke="#111" stroke-width="1.00" />
<line x1="1338.0" y1="937.5" x2="1376.6" y2="997.5" stroke="#111" stroke-width="1.00" />
<path d="M1359.6,874.1 L1373.8,882.1 L1375.6,915.2 L1365.1,910.6 Q1359.6,908.1 1359.6,902.0 Z" fill="url(#gSrvL)" stroke="none" stroke-width="0.00" stroke-linejoin="round" />
<polygon points="1373.8,882.1 1398.3,868.6 1398.3,902.0 1375.6,915.2" fill="url(#gSrvR)" stroke="none" stroke-width="0.00" stroke-linejoin="round" />
<polygon points="1359.6,874.1 1380.1,862.4 1387.1,862.5 1398.3,868.6 1373.8,882.1" fill="url(#gSrvTop)" stroke="none" stroke-width="0.00" stroke-linejoin="round" />
<line x1="1373.8" y1="883.1" x2="1375.6" y2="913.2" stroke="#fffdf6" stroke-width="1.14" opacity="0.9"/>
<path d="M1361.1,874.9 L1373.8,882.1 L1396.8,869.2" fill="none" stroke="#fffdf8" stroke-width="1.06" stroke-linejoin="round" opacity="0.85"/>
<path d="M1359.6,874.1 L1380.1,862.4 L1387.1,862.5 L1398.3,868.6 L1398.3,902.0 L1375.6,915.2 L1365.1,910.6 Q1359.6,908.1 1359.6,902.0 Z" fill="none" stroke="#000" stroke-width="1.69" stroke-linejoin="round" />
<path d="M1362.5,884.2 L1372.3,886.4" fill="none" stroke="#0a0a0a" stroke-width="1.28" stroke-linejoin="round" stroke-linecap="round"/>
<path d="M1362.9,886.3 L1372.3,889.3 L1372.3,892.0" fill="none" stroke="#0a0a0a" stroke-width="1.56" stroke-linejoin="round" stroke-linecap="round"/>
<circle cx="1366.9" cy="896.5" r="1.2" fill="#9aa890" stroke="#1a2a1a" stroke-width="0.8"/>
<line x1="1362.2" y1="902.2" x2="1372.4" y2="907.3" stroke="#111" stroke-width="0.78" />
<line x1="1362.2" y1="904.6" x2="1372.4" y2="909.7" stroke="#111" stroke-width="0.78" />
<line x1="1362.2" y1="907.0" x2="1372.4" y2="912.1" stroke="#111" stroke-width="0.78" />
<polygon points="1379.8,899.6 1389.4,905.1 1389.4,920.0 1379.8,914.5" fill="#f6efdd" stroke="#000" stroke-width="1.68" stroke-linejoin="round" />
<polygon points="1389.4,905.1 1393.0,903.2 1393.0,918.1 1389.4,920.0" fill="#c8b898" stroke="#000" stroke-width="1.44" stroke-linejoin="round" />
<path d="M1312.5,922.9 L1326.1,930.6 L1327.8,962.2 L1317.8,957.8 Q1312.5,955.4 1312.5,949.6 Z" fill="url(#gSrvL)" stroke="none" stroke-width="0.00" stroke-linejoin="round" />
<polygon points="1326.1,930.6 1349.6,917.7 1349.6,949.6 1327.8,962.2" fill="url(#gSrvR)" stroke="none" stroke-width="0.00" stroke-linejoin="round" />
<polygon points="1312.5,922.9 1332.1,911.7 1338.8,911.8 1349.6,917.7 1326.1,930.6" fill="url(#gSrvTop)" stroke="none" stroke-width="0.00" stroke-linejoin="round" />
<line x1="1326.1" y1="931.6" x2="1327.8" y2="960.2" stroke="#fffdf6" stroke-width="1.09" opacity="0.9"/>
<path d="M1314.0,923.7 L1326.1,930.6 L1348.1,918.3" fill="none" stroke="#fffdf8" stroke-width="1.02" stroke-linejoin="round" opacity="0.85"/>
<path d="M1312.5,922.9 L1332.1,911.7 L1338.8,911.8 L1349.6,917.7 L1349.6,949.6 L1327.8,962.2 L1317.8,957.8 Q1312.5,955.4 1312.5,949.6 Z" fill="none" stroke="#000" stroke-width="1.65" stroke-linejoin="round" />
<path d="M1315.2,932.6 L1324.6,934.7" fill="none" stroke="#0a0a0a" stroke-width="1.22" stroke-linejoin="round" stroke-linecap="round"/>
<path d="M1315.6,934.6 L1324.6,937.5 L1324.6,940.1" fill="none" stroke="#0a0a0a" stroke-width="1.50" stroke-linejoin="round" stroke-linecap="round"/>
<circle cx="1319.5" cy="944.4" r="1.2" fill="#9aa890" stroke="#1a2a1a" stroke-width="0.7"/>
<line x1="1315.0" y1="949.8" x2="1324.8" y2="954.7" stroke="#111" stroke-width="0.75" />
<line x1="1315.0" y1="952.1" x2="1324.8" y2="957.0" stroke="#111" stroke-width="0.75" />
<line x1="1315.0" y1="954.4" x2="1324.8" y2="959.3" stroke="#111" stroke-width="0.75" />
<circle cx="1334.0" cy="953.0" r="7.5" fill="#dfe6fb" stroke="#1a1f6a" stroke-width="1.6"/>
<ellipse cx="1334.0" cy="953.0" rx="3.4" ry="7.5" fill="none" stroke="#3a44a8" stroke-width="1"/>
<line x1="1326.5" y1="953.0" x2="1341.5" y2="953.0" stroke="#3a44a8" stroke-width="1.00" />
<path d="M1328.0,949.2 Q1334.0,951.5 1340.0,949.2" fill="none" stroke="#3a44a8" stroke-width="0.90" stroke-linejoin="round" />
<path d="M1328.0,956.8 Q1334.0,954.5 1340.0,956.8" fill="none" stroke="#3a44a8" stroke-width="0.90" stroke-linejoin="round" />
<path d="M1381.0,925.2 L1394.6,932.9 L1396.3,964.5 L1386.3,960.1 Q1381.0,957.7 1381.0,951.9 Z" fill="url(#gSrvL)" stroke="none" stroke-width="0.00" stroke-linejoin="round" />
<polygon points="1394.6,932.9 1418.1,920.0 1418.1,951.9 1396.3,964.5" fill="url(#gSrvR)" stroke="none" stroke-width="0.00" stroke-linejoin="round" />
<polygon points="1381.0,925.2 1400.6,914.0 1407.3,914.1 1418.1,920.0 1394.6,932.9" fill="url(#gSrvTop)" stroke="none" stroke-width="0.00" stroke-linejoin="round" />
<line x1="1394.6" y1="933.9" x2="1396.3" y2="962.5" stroke="#fffdf6" stroke-width="1.09" opacity="0.9"/>
<path d="M1382.5,926.0 L1394.6,932.9 L1416.6,920.6" fill="none" stroke="#fffdf8" stroke-width="1.02" stroke-linejoin="round" opacity="0.85"/>
<path d="M1381.0,925.2 L1400.6,914.0 L1407.3,914.1 L1418.1,920.0 L1418.1,951.9 L1396.3,964.5 L1386.3,960.1 Q1381.0,957.7 1381.0,951.9 Z" fill="none" stroke="#000" stroke-width="1.65" stroke-linejoin="round" />
<path d="M1383.7,934.9 L1393.1,937.0" fill="none" stroke="#0a0a0a" stroke-width="1.22" stroke-linejoin="round" stroke-linecap="round"/>
<path d="M1384.1,936.9 L1393.1,939.8 L1393.1,942.4" fill="none" stroke="#0a0a0a" stroke-width="1.50" stroke-linejoin="round" stroke-linecap="round"/>
<circle cx="1388.0" cy="946.7" r="1.2" fill="#9aa890" stroke="#1a2a1a" stroke-width="0.7"/>
<line x1="1383.5" y1="952.1" x2="1393.3" y2="957.0" stroke="#111" stroke-width="0.75" />
<line x1="1383.5" y1="954.4" x2="1393.3" y2="959.3" stroke="#111" stroke-width="0.75" />
<line x1="1383.5" y1="956.7" x2="1393.3" y2="961.6" stroke="#111" stroke-width="0.75" />
<polygon points="1397.8,950.0 1407.4,955.5 1407.4,970.4 1397.8,964.9" fill="#f6c8a8" stroke="#000" stroke-width="1.68" stroke-linejoin="round" />
<polygon points="1407.4,955.5 1411.0,953.6 1411.0,968.5 1407.4,970.4" fill="#e09060" stroke="#000" stroke-width="1.44" stroke-linejoin="round" />
<path d="M1366.3,975.8 L1381.5,984.4 L1383.4,1019.8 L1372.2,1014.9 Q1366.3,1012.2 1366.3,1005.7 Z" fill="url(#gSrvL)" stroke="none" stroke-width="0.00" stroke-linejoin="round" />
<polygon points="1381.5,984.4 1407.8,970.0 1407.8,1005.7 1383.4,1019.8" fill="url(#gSrvR)" stroke="none" stroke-width="0.00" stroke-linejoin="round" />
<polygon points="1366.3,975.8 1388.2,963.3 1395.8,963.5 1407.8,970.0 1381.5,984.4" fill="url(#gSrvTop)" stroke="none" stroke-width="0.00" stroke-linejoin="round" />
<line x1="1381.5" y1="985.4" x2="1383.4" y2="1017.8" stroke="#fffdf6" stroke-width="1.22" opacity="0.9"/>
<path d="M1367.8,976.6 L1381.5,984.4 L1406.3,970.6" fill="none" stroke="#fffdf8" stroke-width="1.14" stroke-linejoin="round" opacity="0.85"/>
<path d="M1366.3,975.8 L1388.2,963.3 L1395.8,963.5 L1407.8,970.0 L1407.8,1005.7 L1383.4,1019.8 L1372.2,1014.9 Q1366.3,1012.2 1366.3,1005.7 Z" fill="none" stroke="#000" stroke-width="1.74" stroke-linejoin="round" />
<path d="M1369.4,986.7 L1379.9,989.0" fill="none" stroke="#0a0a0a" stroke-width="1.37" stroke-linejoin="round" stroke-linecap="round"/>
<path d="M1369.8,988.9 L1379.9,992.1 L1379.9,995.0" fill="none" stroke="#0a0a0a" stroke-width="1.67" stroke-linejoin="round" stroke-linecap="round"/>
<circle cx="1374.1" cy="999.8" r="1.3" fill="#9aa890" stroke="#1a2a1a" stroke-width="0.8"/>
<line x1="1369.1" y1="1005.9" x2="1380.0" y2="1011.4" stroke="#111" stroke-width="0.84" />
<line x1="1369.1" y1="1008.5" x2="1380.0" y2="1014.0" stroke="#111" stroke-width="0.84" />
<line x1="1369.1" y1="1011.1" x2="1380.0" y2="1016.6" stroke="#111" stroke-width="0.84" />
<polygon points="1388.2,1001.7 1397.8,1007.2 1397.8,1022.1 1388.2,1016.6" fill="#f4f4f4" stroke="#000" stroke-width="1.68" stroke-linejoin="round" />
<polygon points="1397.8,1007.2 1401.4,1005.3 1401.4,1020.2 1397.8,1022.1" fill="#c8b898" stroke="#000" stroke-width="1.44" stroke-linejoin="round" />
<circle cx="1393.0" cy="1012.5" r="3.4" fill="#3050d0" stroke="#102080" stroke-width="0.6"/>
<g fill="#22ee22">
<ellipse cx="1218.8" cy="937.4" rx="11.5" ry="14.5"/>
<ellipse cx="1208.8" cy="954.4" rx="14.0" ry="7.0"/>
</g>
<path d="M1153.1,886.3 L1178.0,900.4 L1181.1,958.3 L1162.7,950.2 Q1153.1,945.8 1153.1,935.2 Z" fill="#10ec10" stroke="#003c00" stroke-width="1.20" stroke-linejoin="round" />
<polygon points="1178.0,900.4 1220.9,876.7 1220.9,935.2 1181.1,958.3" fill="#12f012" stroke="#003c00" stroke-width="1.20" stroke-linejoin="round" />
<polygon points="1153.1,886.3 1194.2,862.4 1195.4,862.4 1220.9,876.7 1178.0,900.4" fill="#14f014" stroke="#003c00" stroke-width="1.20" stroke-linejoin="round" />
<path d="M1156.1,897.3 Q1165.5,899.6 1176.0,910.5" fill="none" stroke="#0a6a0a" stroke-width="1.25" stroke-linejoin="round" stroke-linecap="round"/>
<polygon points="1156.6,901.3 1175.5,913.3 1175.5,918.3 1156.6,905.7" fill="#0a6a0a" stroke="none" stroke-width="0.00" stroke-linejoin="round" />
<circle cx="1163.6" cy="923.3" r="2.4" fill="#0c9c0c" stroke="#064" stroke-width="1.0"/>
<line x1="1155.6" y1="928.8" x2="1175.0" y2="944.7" stroke="#0a7a0a" stroke-width="1.62" />
<line x1="1155.6" y1="934.0" x2="1175.0" y2="950.0" stroke="#0a7a0a" stroke-width="1.62" />
<line x1="1155.6" y1="939.3" x2="1175.0" y2="955.2" stroke="#0a7a0a" stroke-width="1.62" />
<g stroke="#003c00" stroke-width="1.10" stroke-linejoin="round" fill="#14f014">
<polygon points="1181.4,959.7 1189.4,954.4 1201.7,961.5 1193.8,966.7"/>
<polygon points="1190.2,950.0 1202.6,943.9 1215.8,950.9 1215.8,955.3 1203.4,962.3 1190.2,954.4"/>
<polygon points="1193.8,931.5 1198.2,928.9 1202.6,930.7 1205.2,928.9 1210.5,932.4 1210.5,948.3 1204.3,952.7 1193.8,947.4"/>
<polygon points="1195.5,934.2 1203.4,938.6 1203.4,949.1 1195.5,944.7"/>
<line x1="1203.4" y1="957.1" x2="1208.7" y2="954.4" stroke-width="1.8"/>
</g>
<text x="116.4" y="907.7" font-size="18.0" fill="#262626" font-weight="400" text-anchor="start" >其他安全设备</text>
<text x="345.9" y="924.0" font-size="18.0" fill="#262626" font-weight="400" text-anchor="start" >网络设备</text>
<text x="246.4" y="952.2" font-size="18.0" fill="#262626" font-weight="400" text-anchor="start" >事件采集</text>
<text x="108.2" y="973.3" font-size="18.2" fill="#262626" font-weight="400" text-anchor="start" >漏洞扫描系</text>
<text x="144.9" y="995.6" font-size="18.2" fill="#262626" font-weight="400" text-anchor="start" >统</text>
<text x="191.3" y="1031.9" font-size="18.0" fill="#262626" font-weight="400" text-anchor="start" >审计系统</text>
<text x="261.6" y="1038.9" font-size="18.0" fill="#262626" font-weight="400" text-anchor="start" >防火墙</text>
<text x="313.0" y="1009.6" font-size="18.0" fill="#262626" font-weight="400" text-anchor="start" >其他服务器</text>
<text x="808.4" y="911.0" font-size="18.0" fill="#262626" font-weight="400" text-anchor="start" >其他安全设备</text>
<text x="1037.9" y="927.3" font-size="18.0" fill="#262626" font-weight="400" text-anchor="start" >网络设备</text>
<text x="938.4" y="955.5" font-size="18.0" fill="#262626" font-weight="400" text-anchor="start" >事件采集</text>
<text x="800.2" y="976.6" font-size="18.2" fill="#262626" font-weight="400" text-anchor="start" >漏洞扫描系</text>
<text x="836.9" y="998.9" font-size="18.2" fill="#262626" font-weight="400" text-anchor="start" >统</text>
<text x="883.3" y="1035.2" font-size="18.0" fill="#262626" font-weight="400" text-anchor="start" >审计系统</text>
<text x="953.6" y="1042.2" font-size="18.0" fill="#262626" font-weight="400" text-anchor="start" >防火墙</text>
<text x="1005.0" y="1012.9" font-size="18.0" fill="#262626" font-weight="400" text-anchor="start" >其他服务器</text>
<text x="18.0" y="861.7" font-size="18.0" fill="#262626" font-weight="400" text-anchor="start" >日志采集器</text>
<text x="733.4" y="826.5" font-size="18.0" fill="#262626" font-weight="400" text-anchor="start" >日志采集器</text>
<text x="1071.0" y="781.0" font-size="18.0" fill="#262626" font-weight="400" text-anchor="start" >日志采集器</text>
<text x="1143.0" y="981.0" font-size="18.0" fill="#262626" font-weight="400" text-anchor="start" >日志采集器</text>
<text x="900.2" y="789.4" font-size="18.0" fill="#262626" font-weight="400" text-anchor="start" >网络入侵</text>
<text x="900.2" y="813.0" font-size="18.0" fill="#262626" font-weight="400" text-anchor="start" >检测系统</text>
<text x="599.9" y="830.9" font-size="18.0" fill="#2020b8" font-weight="400" text-anchor="start" >业务1</text>
<text x="623.9" y="899.8" font-size="18.0" fill="#2020b8" font-weight="400" text-anchor="start" >业务2</text>
<text x="607.4" y="974.8" font-size="18.0" fill="#2020b8" font-weight="400" text-anchor="start" >业务3</text>
<text x="460.5" y="944.8" font-size="18.0" fill="#555" font-weight="400" text-anchor="start" textLength="100" lengthAdjust="spacing">Syslog Serv</text>
<text x="1387.8" y="708.0" font-size="18.0" fill="#2020b8" font-weight="400" text-anchor="start" >业务1</text>
<text x="1409.0" y="760.3" font-size="18.0" fill="#2020b8" font-weight="400" text-anchor="start" >业务2</text>
<text x="1393.0" y="819.0" font-size="18.0" fill="#2020b8" font-weight="400" text-anchor="start" >业务3</text>
<text x="1259.7" y="799.8" font-size="18.0" fill="#555" font-weight="400" text-anchor="start" textLength="98" lengthAdjust="spacing">Syslog Serv</text>
<text x="1395.4" y="892.4" font-size="18.0" fill="#2020b8" font-weight="400" text-anchor="start" >业务1</text>
<text x="1417.0" y="946.5" font-size="18.0" fill="#2020b8" font-weight="400" text-anchor="start" >业务2</text>
<text x="1401.4" y="1003.0" font-size="18.0" fill="#2020b8" font-weight="400" text-anchor="start" >业务3</text>
<text x="1266.9" y="983.7" font-size="18.0" fill="#555" font-weight="400" text-anchor="start" textLength="101" lengthAdjust="spacing">Syslog Serv</text>
<polygon points="64.4,796.8 77.7,789.8 76.2,795.5 78.9,800.7" fill="#1ea8e6" stroke="none" stroke-width="0.00" stroke-linejoin="round" />
<path d="M281.5,900.7 C278.8,896.4 271.1,882.8 265.0,875.0 C258.9,867.2 251.7,860.6 245.0,853.9 C238.3,847.2 232.0,841.0 225.0,835.0 C218.0,829.0 211.3,823.3 203.0,818.0 C194.7,812.7 184.2,806.7 175.0,803.0 C165.8,799.3 156.5,797.7 147.7,796.0 C138.9,794.3 131.1,793.2 122.0,792.8 C112.9,792.4 101.3,793.1 93.3,793.6 C85.3,794.1 77.3,795.4 74.1,795.7" fill="none" stroke="#27a6dc" stroke-width="3.1" stroke-linecap="round"/>
<polygon points="590.9,735.0 580.3,745.7 580.0,739.8 575.9,735.6" fill="#1ea8e6" stroke="none" stroke-width="0.00" stroke-linejoin="round" />
<path d="M545.9,905.8 C541.9,899.3 528.5,881.9 522.0,866.9 C515.5,851.9 506.0,831.9 507.0,815.9 C508.0,799.9 518.0,782.7 528.0,771.0 C538.0,759.3 558.0,750.8 567.0,745.5 C576.0,740.2 579.4,740.0 581.9,738.9" fill="none" stroke="#27a6dc" stroke-width="3.1" stroke-linecap="round"/>
<polygon points="785.6,759.8 799.9,755.0 797.5,760.4 799.3,766.0" fill="#1ea8e6" stroke="none" stroke-width="0.00" stroke-linejoin="round" />
<path d="M972.7,904.0 C970.2,897.5 962.5,876.5 958.0,865.0 C953.5,853.5 952.2,845.7 945.7,835.0 C939.2,824.3 929.9,809.7 918.7,801.0 C907.5,792.3 891.4,788.2 878.3,782.7 C865.2,777.2 851.4,771.6 840.0,768.0 C828.6,764.4 817.4,762.3 810.0,761.0 C802.6,759.7 797.8,760.4 795.4,760.3" fill="none" stroke="#27a6dc" stroke-width="3.1" stroke-linecap="round"/>
<polygon points="1150.0,709.5 1162.8,701.5 1161.7,707.3 1164.8,712.4" fill="#1ea8e6" stroke="none" stroke-width="0.00" stroke-linejoin="round" />
<path d="M1399.5,720.8 C1391.5,719.0 1370.8,713.5 1351.5,710.0 C1332.2,706.5 1301.4,701.7 1284.0,699.5 C1266.6,697.3 1259.4,697.2 1247.0,697.0 C1234.6,696.8 1219.8,697.5 1209.5,698.5 C1199.2,699.5 1193.3,701.5 1185.0,703.0 C1176.7,704.5 1163.9,706.9 1159.6,707.7" fill="none" stroke="#27a6dc" stroke-width="3.1" stroke-linecap="round"/>
<polygon points="1221.3,897.0 1234.3,889.5 1233.1,895.3 1236.0,900.4" fill="#1ea8e6" stroke="none" stroke-width="0.00" stroke-linejoin="round" />
<path d="M1341.0,955.0 C1339.2,950.8 1334.3,937.5 1330.0,930.0 C1325.7,922.5 1320.5,915.3 1315.0,910.0 C1309.5,904.7 1306.2,900.9 1297.0,898.0 C1287.8,895.1 1268.4,893.2 1259.7,892.5 C1251.0,891.8 1249.8,893.0 1245.0,893.5 C1240.2,894.0 1233.3,895.2 1231.0,895.6" fill="none" stroke="#27a6dc" stroke-width="3.1" stroke-linecap="round"/>
<text x="480.0" y="152.5" font-size="18.5" fill="#262626" font-weight="400" text-anchor="start" >网络入侵</text>
<text x="480.0" y="177.0" font-size="18.5" fill="#262626" font-weight="400" text-anchor="start" >检测系统</text>
<text x="695.0" y="175.5" font-size="18.0" fill="#1c2478" font-weight="400" text-anchor="start" >音像</text>
<text x="380.0" y="301.5" font-size="18.0" fill="#262626" font-weight="400" text-anchor="start" >其他安全设备</text>
<text x="693.0" y="326.0" font-size="18.0" fill="#262626" font-weight="400" text-anchor="start" >网络设备</text>
<text x="356.5" y="418.0" font-size="18.3" fill="#262626" font-weight="400" text-anchor="start" >漏洞扫描系统</text>
<text x="478.5" y="482.5" font-size="18.0" fill="#262626" font-weight="400" text-anchor="start" >审计系统</text>
<text x="574.0" y="485.0" font-size="18.0" fill="#262626" font-weight="400" text-anchor="start" >防火墙</text>
<text x="650.0" y="446.5" font-size="18.3" fill="#262626" font-weight="400" text-anchor="start" >其他服务器</text>
<text x="713.5" y="485.5" font-size="18.3" fill="#262626" font-weight="400" text-anchor="start" >日志采集服务器</text>
<polygon points="283.0,187.0 298.9,170.1 299.5,178.3 306.0,183.3" fill="#1ea8e6" stroke="none" stroke-width="0.00" stroke-linejoin="round" />
<path d="M948.0,234.0 C940.0,228.8 916.3,213.0 900.0,203.0 C883.7,193.0 869.5,183.3 850.0,174.0 C830.5,164.7 807.5,155.3 783.0,147.0 C758.5,138.7 726.8,129.5 703.0,124.0 C679.2,118.5 666.3,116.0 640.0,114.0 C613.7,112.0 576.7,109.8 545.0,112.0 C513.3,114.2 477.0,121.8 450.0,127.0 C423.0,132.2 400.2,138.0 383.0,143.0 C365.8,148.0 360.8,151.2 347.0,157.0 C333.2,162.8 308.4,174.2 300.0,178.0 C291.6,181.8 297.2,179.5 296.6,179.8" fill="none" stroke="#25a8e2" stroke-width="4.0" stroke-linecap="round"/>
<polygon points="771.0,374.0 757.8,369.5 762.5,366.9 764.2,361.8" fill="#1ea8e6" stroke="none" stroke-width="0.00" stroke-linejoin="round" />
<path d="M583.5,318.5 C587.8,318.0 598.8,315.8 609.5,315.6 C620.2,315.5 634.1,315.9 647.5,317.6 C660.9,319.3 679.0,322.7 690.0,326.0 C701.0,329.3 705.2,333.5 713.5,337.6 C721.8,341.7 731.1,345.5 739.5,350.6 C747.9,355.7 759.7,365.1 763.8,368.0 C767.9,370.9 764.0,368.1 764.0,368.2" fill="none" stroke="#27a6dc" stroke-width="2.6" stroke-linecap="round"/>
<path d="M626.7,328 Q636,322 647.5,322" fill="none" stroke="#27a6dc" stroke-width="1.60" stroke-linejoin="round" />
<polygon points="99.5,774.0 92.5,754.0 99.5,757.0 106.5,754.0" fill="#808080" stroke="none" stroke-width="0.00" stroke-linejoin="round" />
<polygon points="185.0,271.7 165.0,278.7 168.0,271.7 165.0,264.7" fill="#808080" stroke="none" stroke-width="0.00" stroke-linejoin="round" />
<polyline points="169.0,271.7 99.5,271.7 99.5,758.0" fill="none" stroke="#808080" stroke-width="3.9" stroke-linejoin="miter"/>
<polygon points="244.0,277.0 264.0,270.0 261.0,277.0 264.0,284.0" fill="#808080" stroke="none" stroke-width="0.00" stroke-linejoin="round" />
<polyline points="260.0,277.0 638.0,277.0 638.0,691.0" fill="none" stroke="#808080" stroke-width="3.9" stroke-linejoin="miter"/>
<polygon points="244.0,296.0 264.0,289.0 261.0,296.0 264.0,303.0" fill="#808080" stroke="none" stroke-width="0.00" stroke-linejoin="round" />
<polyline points="260.0,296.0 638.0,296.0" fill="none" stroke="#808080" stroke-width="3.9" stroke-linejoin="miter"/>
<polygon points="781.0,361.7 761.0,368.7 764.0,361.7 761.0,354.7" fill="#808080" stroke="none" stroke-width="0.00" stroke-linejoin="round" />
<polygon points="201.5,324.8 221.5,317.8 218.5,324.8 221.5,331.8" fill="#808080" stroke="none" stroke-width="0.00" stroke-linejoin="round" />
<polyline points="217.5,324.8 580.0,324.8 580.0,361.7 765.0,361.7" fill="none" stroke="#808080" stroke-width="3.9" stroke-linejoin="miter"/>
<polygon points="1181.0,867.0 1174.0,847.0 1181.0,850.0 1188.0,847.0" fill="#808080" stroke="none" stroke-width="0.00" stroke-linejoin="round" />
<polygon points="311.0,350.3 331.0,343.3 328.0,350.3 331.0,357.3" fill="#808080" stroke="none" stroke-width="0.00" stroke-linejoin="round" />
<polyline points="327.0,350.3 687.6,350.3 687.6,684.4 1181.0,684.4 1181.0,851.0" fill="none" stroke="#808080" stroke-width="3.9" stroke-linejoin="miter"/>
<polygon points="780.5,773.5 773.5,753.5 780.5,756.5 787.5,753.5" fill="#808080" stroke="none" stroke-width="0.00" stroke-linejoin="round" />
<polygon points="227.6,363.0 234.6,383.0 227.6,380.0 220.6,383.0" fill="#808080" stroke="none" stroke-width="0.00" stroke-linejoin="round" />
<polyline points="227.6,379.0 227.6,691.0 780.5,691.0 780.5,757.5" fill="none" stroke="#808080" stroke-width="3.9" stroke-linejoin="miter"/>
<polygon points="597.0,732.0 617.0,725.0 614.0,732.0 617.0,739.0" fill="#808080" stroke="none" stroke-width="0.00" stroke-linejoin="round" />
<polyline points="707.0,691.0 707.0,732.0 613.0,732.0" fill="none" stroke="#808080" stroke-width="3.9" stroke-linejoin="miter"/>
<polyline points="637.6,675.0 1102.5,675.0 1102.5,676.0" fill="none" stroke="#808080" stroke-width="3.9" stroke-linejoin="miter"/>
<polygon points="1095.5,663.0 1109.5,663.0 1102.5,683.0" fill="#808080" stroke="none" stroke-width="0.00" stroke-linejoin="round" />
<rect x="60.0" y="467.0" width="77.0" height="23.0" fill="#fff"/>
<text x="98.5" y="485.0" font-size="18.0" fill="#2a2a2a" font-weight="400" text-anchor="middle" >通讯加密</text>
<rect x="479.5" y="313.0" width="74.5" height="22.5" fill="#fff"/>
<text x="516.8" y="330.7" font-size="18.0" fill="#2a2a2a" font-weight="400" text-anchor="middle" >通讯加密</text>
<rect x="648.5" y="313.0" width="74.5" height="23.0" fill="#fff"/>
<text x="685.8" y="331.0" font-size="18.0" fill="#2a2a2a" font-weight="400" text-anchor="middle" >事件收集</text>
<rect x="600.0" y="388.0" width="75.0" height="22.5" fill="#fff"/>
<text x="637.5" y="405.7" font-size="18.0" fill="#2a2a2a" font-weight="400" text-anchor="middle" >通讯加密</text>
<rect x="600.0" y="511.5" width="75.0" height="22.5" fill="#fff"/>
<text x="637.5" y="529.2" font-size="18.0" fill="#2a2a2a" font-weight="400" text-anchor="middle" >通讯加密</text>
<rect x="342.5" y="679.0" width="75.0" height="22.5" fill="#fff"/>
<text x="380.0" y="696.7" font-size="18.0" fill="#2a2a2a" font-weight="400" text-anchor="middle" >通讯加密</text>
<rect x="650.0" y="656.0" width="74.0" height="23.0" fill="#fff"/>
<text x="687.0" y="674.0" font-size="18.0" fill="#2a2a2a" font-weight="400" text-anchor="middle" >通讯加密</text>
<rect x="545" y="101.5" width="205" height="23.5" fill="#fff"/>
<text x="647.5" y="120.0" font-size="20.0" fill="#262626" font-weight="400" text-anchor="middle" textLength="202" lengthAdjust="spacing">管理/维护/事件处置分析</text>
<rect x="148.5" y="797.5" width="74.0" height="21.0" fill="#fff"/>
<text x="185.5" y="814.5" font-size="18.0" fill="#2a2a2a" font-weight="400" text-anchor="middle" >日志收集</text>
<rect x="472.5" y="789.5" width="75.0" height="21.5" fill="#fff"/>
<text x="510.0" y="806.7" font-size="18.0" fill="#2a2a2a" font-weight="400" text-anchor="middle" >日志收集</text>
<rect x="859.5" y="785.0" width="73.0" height="21.5" fill="#fff"/>
<text x="896.0" y="802.2" font-size="18.0" fill="#2a2a2a" font-weight="400" text-anchor="middle" >日志收集</text>
<rect x="1209.5" y="687.5" width="75.0" height="21.5" fill="#fff"/>
<text x="1247.0" y="704.7" font-size="18.0" fill="#2a2a2a" font-weight="400" text-anchor="middle" >事件收集</text>
<rect x="1259.5" y="887.0" width="75.0" height="21.5" fill="#fff"/>
<text x="1297.0" y="904.2" font-size="18.0" fill="#2a2a2a" font-weight="400" text-anchor="middle" >事件收集</text>
</svg>
</body></html>
